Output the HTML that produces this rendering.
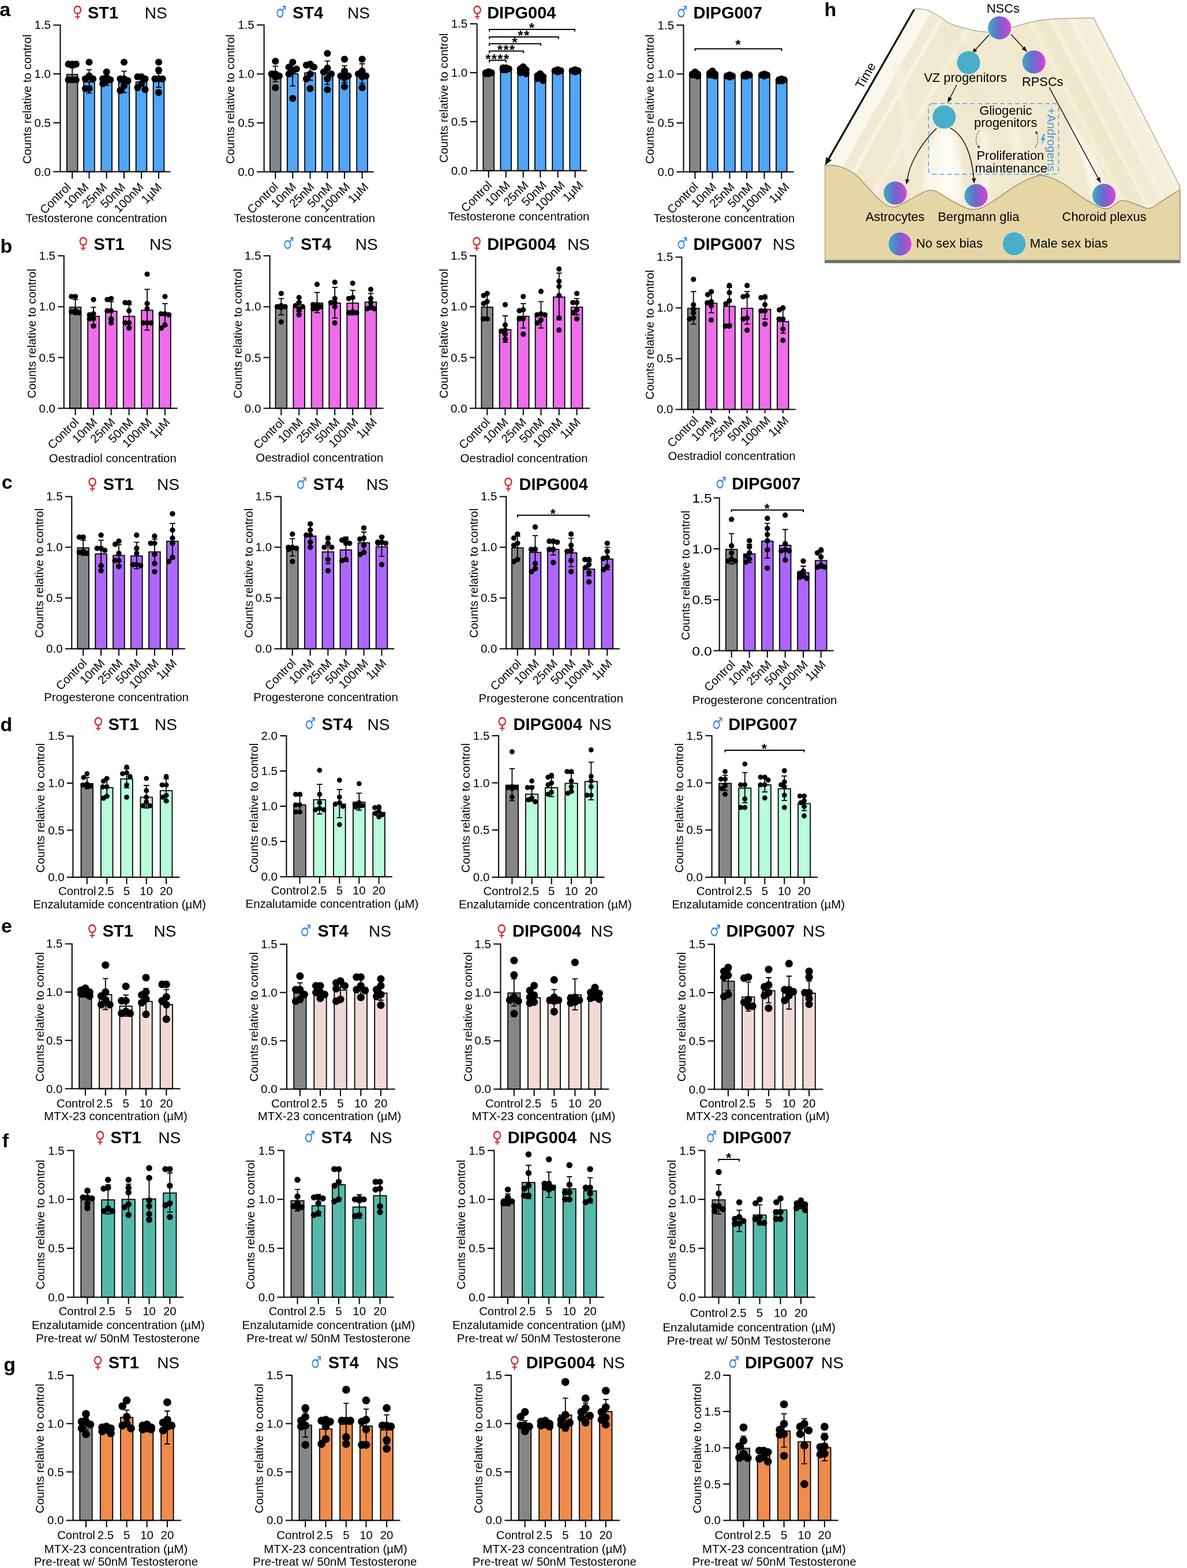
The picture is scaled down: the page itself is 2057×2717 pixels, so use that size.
<!DOCTYPE html><html><head><meta charset='utf-8'><title>Figure</title><style>html,body{margin:0;padding:0;background:#fff;}svg{display:block}</style></head><body>
<svg width='2057' height='2717' viewBox='0 0 2057 2717' font-family="'Liberation Sans', Arial, Helvetica, sans-serif">
<rect width='2057' height='2717' fill='#fff'/>
<defs>
<linearGradient id='gcell' x1='0' x2='1' y1='0' y2='0'>
<stop offset='0' stop-color='#3aaec8'/><stop offset='0.45' stop-color='#6a6cc8'/><stop offset='0.75' stop-color='#a253d2'/><stop offset='1' stop-color='#e83fd8'/>
</linearGradient>
<linearGradient id='surf' x1='0' x2='1' y1='0' y2='0'>
<stop offset='0' stop-color='#f6f1de'/><stop offset='0.25' stop-color='#f1e9cd'/><stop offset='0.5' stop-color='#f0e8cb'/>
<stop offset='0.75' stop-color='#f2ebd2'/><stop offset='1' stop-color='#f5f0df'/>
</linearGradient>
</defs>
<clipPath id='surfclip'><path d='M1584.3,16.2C1585.57,16 1587.45,14.52 1591.9,15C1596.35,15.48 1604.65,16.6 1611,19.1C1617.35,21.6 1623.63,26.18 1630,30C1636.37,33.82 1639.63,38.25 1649.2,42C1658.77,45.75 1676.9,50.27 1687.4,52.5C1697.9,54.73 1704.77,55.48 1712.2,55.4C1719.63,55.32 1725.23,53.23 1732,52C1738.77,50.77 1744.8,50 1752.8,48C1760.8,46 1770.33,42.32 1780,40C1789.67,37.68 1799.3,35.43 1810.8,34.1C1822.3,32.77 1835.5,32.48 1849,32C1862.5,31.52 1883.97,31.03 1891.8,31.2C1899.63,31.37 1895.3,32.7 1896,33L2044.8,323L2044.8,328.7C2039.75,331.87 2023.33,342.32 2014.5,347.7C2005.67,353.08 1999.68,360.07 1991.8,361C1983.92,361.93 1974.47,355.52 1967.2,353.3C1959.93,351.08 1952.93,348.33 1948.2,347.7C1943.47,347.07 1943.53,347.2 1938.8,349.5C1934.07,351.8 1926.12,360.23 1919.8,361.5C1913.48,362.77 1908.78,360.68 1900.9,357.1C1893.02,353.52 1881.98,346.3 1872.5,340C1863.02,333.7 1853.47,324.97 1844,319.3C1834.53,313.63 1823.57,308.38 1815.7,306C1807.83,303.62 1804.68,303.1 1796.8,305C1788.92,306.9 1777.03,312.9 1768.4,317.4C1759.77,321.9 1752.32,327.2 1745,332C1737.68,336.8 1732,341.47 1724.5,346.2C1717,350.93 1707.45,357.7 1700,360.4C1692.55,363.1 1687.57,364.1 1679.8,362.4C1672.03,360.7 1662.87,355.27 1653.4,350.2C1643.93,345.13 1629.75,335.37 1623,332C1616.25,328.63 1616.28,330 1612.9,330C1609.52,330 1609.47,328.97 1602.7,332C1595.93,335.03 1580.75,343.73 1572.3,348.2C1563.85,352.67 1557.77,357.45 1552,358.8C1546.23,360.15 1542.78,358.77 1537.7,356.3C1532.62,353.83 1527.58,349.75 1521.5,344C1515.42,338.25 1507.97,328.88 1501.2,321.8C1494.43,314.72 1488.1,306.88 1480.9,301.5C1473.7,296.12 1464.77,292.03 1458,289.5C1451.23,286.97 1445.12,286.67 1440.3,286.3C1435.48,285.93 1430.97,287.13 1429.1,287.3Z'/></clipPath>
<path d='M1584.3,16.2C1585.57,16 1587.45,14.52 1591.9,15C1596.35,15.48 1604.65,16.6 1611,19.1C1617.35,21.6 1623.63,26.18 1630,30C1636.37,33.82 1639.63,38.25 1649.2,42C1658.77,45.75 1676.9,50.27 1687.4,52.5C1697.9,54.73 1704.77,55.48 1712.2,55.4C1719.63,55.32 1725.23,53.23 1732,52C1738.77,50.77 1744.8,50 1752.8,48C1760.8,46 1770.33,42.32 1780,40C1789.67,37.68 1799.3,35.43 1810.8,34.1C1822.3,32.77 1835.5,32.48 1849,32C1862.5,31.52 1883.97,31.03 1891.8,31.2C1899.63,31.37 1895.3,32.7 1896,33L2044.8,323L2044.8,328.7C2039.75,331.87 2023.33,342.32 2014.5,347.7C2005.67,353.08 1999.68,360.07 1991.8,361C1983.92,361.93 1974.47,355.52 1967.2,353.3C1959.93,351.08 1952.93,348.33 1948.2,347.7C1943.47,347.07 1943.53,347.2 1938.8,349.5C1934.07,351.8 1926.12,360.23 1919.8,361.5C1913.48,362.77 1908.78,360.68 1900.9,357.1C1893.02,353.52 1881.98,346.3 1872.5,340C1863.02,333.7 1853.47,324.97 1844,319.3C1834.53,313.63 1823.57,308.38 1815.7,306C1807.83,303.62 1804.68,303.1 1796.8,305C1788.92,306.9 1777.03,312.9 1768.4,317.4C1759.77,321.9 1752.32,327.2 1745,332C1737.68,336.8 1732,341.47 1724.5,346.2C1717,350.93 1707.45,357.7 1700,360.4C1692.55,363.1 1687.57,364.1 1679.8,362.4C1672.03,360.7 1662.87,355.27 1653.4,350.2C1643.93,345.13 1629.75,335.37 1623,332C1616.25,328.63 1616.28,330 1612.9,330C1609.52,330 1609.47,328.97 1602.7,332C1595.93,335.03 1580.75,343.73 1572.3,348.2C1563.85,352.67 1557.77,357.45 1552,358.8C1546.23,360.15 1542.78,358.77 1537.7,356.3C1532.62,353.83 1527.58,349.75 1521.5,344C1515.42,338.25 1507.97,328.88 1501.2,321.8C1494.43,314.72 1488.1,306.88 1480.9,301.5C1473.7,296.12 1464.77,292.03 1458,289.5C1451.23,286.97 1445.12,286.67 1440.3,286.3C1435.48,285.93 1430.97,287.13 1429.1,287.3Z' fill='#f1e9cf'/>
<g clip-path='url(#surfclip)'>
<path d='M1614.12,-35.87L1400.38,337.37L1424.68,351.28L1638.41,-21.95Z' fill='#faf7ec' opacity='1.0'/>
<path d='M1638.41,-21.95L1424.68,351.28L1439.43,359.73L1653.17,-13.5Z' fill='#f1ead3' opacity='1.0'/>
<path d='M1653.17,-13.5L1439.43,359.73L1446.38,363.7L1660.11,-9.53Z' fill='#f6f1e2' opacity='1.0'/>
<path d='M1660.11,-9.53L1446.38,363.7L1480.22,383.09L1693.95,9.85Z' fill='#f0e8cf' opacity='1.0'/>
<path d='M1693.95,9.85L1480.22,383.09L1490.63,389.05L1704.37,15.81Z' fill='#f4eedb' opacity='1.0'/>
<path d='M1858.43,-39.65L2081.37,394.15L2072.47,398.73L1849.54,-35.08Z' fill='#f6f1e0' opacity='1.0'/>
<path d='M1849.54,-35.08L2072.47,398.73L2054.68,407.87L1831.75,-25.94Z' fill='#f4eed9' opacity='1.0'/>
<path d='M1831.75,-25.94L2054.68,407.87L2045.79,412.44L1822.86,-21.37Z' fill='#f6f1e1' opacity='1.0'/>
<path d='M1822.86,-21.37L2045.79,412.44L2026.22,422.49L1803.29,-11.32Z' fill='#f2ebd3' opacity='1.0'/>
<path d='M1803.29,-11.32L2026.22,422.49L2019.11,426.15L1796.17,-7.66Z' fill='#f5f0de' opacity='1.0'/>
<path d='M1796.17,-7.66L2019.11,426.15L1996.87,437.58L1773.94,3.77Z' fill='#f0e8cd' opacity='1.0'/>
<path d='M1773.94,3.77L1996.87,437.58L1988.87,441.69L1765.93,7.88Z' fill='#f4eed9' opacity='1.0'/>
<filter id='blur4' x='-50%' y='-50%' width='200%' height='200%'><feGaussianBlur stdDeviation='3.5'/></filter>
<path d='M1612,250 C1622,225 1640,215 1652,226 C1664,250 1668,300 1668,350 L1600,350 C1600,310 1604,275 1612,250 Z' fill='#fbf8ee' opacity='0.9' filter='url(#blur4)'/>
<path d='M1633,232 C1638,226 1645,228 1647,236 C1652,270 1655,310 1652,345 L1630,345 C1628,300 1628,260 1633,232 Z' fill='#fffdf6' opacity='0.9' filter='url(#blur4)'/>
<path d='M1700,230 C1706,226 1712,232 1714,245 C1716,280 1716,320 1714,350 L1700,350 C1698,310 1697,270 1700,230 Z' fill='#f9f5e7' opacity='0.8' filter='url(#blur4)'/>
<path d='M1740,180 C1760,200 1775,250 1778,300 L1760,305 C1757,255 1745,215 1735,190 Z' fill='#f8f3e2' opacity='0.8' filter='url(#blur4)'/>
<path d='M1860,215 C1880,240 1895,290 1905,340 L1893,344 C1883,295 1870,250 1852,222 Z' fill='#fcfaf1' opacity='0.9' filter='url(#blur4)'/>
<path d='M1885,245 C1900,270 1915,310 1925,350 L1915,352 C1905,315 1892,280 1878,252 Z' fill='#f9f5e6' opacity='0.8' filter='url(#blur4)'/>
<path d='M1655,60 C1680,90 1700,150 1705,200 L1690,205 C1684,150 1668,100 1645,68 Z' fill='#efe6ca' opacity='0.7' filter='url(#blur4)'/>
<path d='M1560,110 C1570,160 1580,230 1585,300 L1570,300 C1566,230 1556,160 1548,115 Z' fill='#f6f1df' opacity='0.8' filter='url(#blur4)'/>
</g>
<path d='M1584.3,16.2C1585.57,16 1587.45,14.52 1591.9,15C1596.35,15.48 1604.65,16.6 1611,19.1C1617.35,21.6 1623.63,26.18 1630,30C1636.37,33.82 1639.63,38.25 1649.2,42C1658.77,45.75 1676.9,50.27 1687.4,52.5C1697.9,54.73 1704.77,55.48 1712.2,55.4C1719.63,55.32 1725.23,53.23 1732,52C1738.77,50.77 1744.8,50 1752.8,48C1760.8,46 1770.33,42.32 1780,40C1789.67,37.68 1799.3,35.43 1810.8,34.1C1822.3,32.77 1835.5,32.48 1849,32C1862.5,31.52 1883.97,31.03 1891.8,31.2C1899.63,31.37 1895.3,32.7 1896,33L2044.8,323L2044.8,328.7C2039.75,331.87 2023.33,342.32 2014.5,347.7C2005.67,353.08 1999.68,360.07 1991.8,361C1983.92,361.93 1974.47,355.52 1967.2,353.3C1959.93,351.08 1952.93,348.33 1948.2,347.7C1943.47,347.07 1943.53,347.2 1938.8,349.5C1934.07,351.8 1926.12,360.23 1919.8,361.5C1913.48,362.77 1908.78,360.68 1900.9,357.1C1893.02,353.52 1881.98,346.3 1872.5,340C1863.02,333.7 1853.47,324.97 1844,319.3C1834.53,313.63 1823.57,308.38 1815.7,306C1807.83,303.62 1804.68,303.1 1796.8,305C1788.92,306.9 1777.03,312.9 1768.4,317.4C1759.77,321.9 1752.32,327.2 1745,332C1737.68,336.8 1732,341.47 1724.5,346.2C1717,350.93 1707.45,357.7 1700,360.4C1692.55,363.1 1687.57,364.1 1679.8,362.4C1672.03,360.7 1662.87,355.27 1653.4,350.2C1643.93,345.13 1629.75,335.37 1623,332C1616.25,328.63 1616.28,330 1612.9,330C1609.52,330 1609.47,328.97 1602.7,332C1595.93,335.03 1580.75,343.73 1572.3,348.2C1563.85,352.67 1557.77,357.45 1552,358.8C1546.23,360.15 1542.78,358.77 1537.7,356.3C1532.62,353.83 1527.58,349.75 1521.5,344C1515.42,338.25 1507.97,328.88 1501.2,321.8C1494.43,314.72 1488.1,306.88 1480.9,301.5C1473.7,296.12 1464.77,292.03 1458,289.5C1451.23,286.97 1445.12,286.67 1440.3,286.3C1435.48,285.93 1430.97,287.13 1429.1,287.3Z' fill='none' stroke='#8f8668' stroke-width='1'/>
<path d='M1429.1,287.3C1430.97,287.13 1435.48,285.93 1440.3,286.3C1445.12,286.67 1451.23,286.97 1458,289.5C1464.77,292.03 1473.7,296.12 1480.9,301.5C1488.1,306.88 1494.43,314.72 1501.2,321.8C1507.97,328.88 1515.42,338.25 1521.5,344C1527.58,349.75 1532.62,353.83 1537.7,356.3C1542.78,358.77 1546.23,360.15 1552,358.8C1557.77,357.45 1563.85,352.67 1572.3,348.2C1580.75,343.73 1595.93,335.03 1602.7,332C1609.47,328.97 1609.52,330 1612.9,330C1616.28,330 1616.25,328.63 1623,332C1629.75,335.37 1643.93,345.13 1653.4,350.2C1662.87,355.27 1672.03,360.7 1679.8,362.4C1687.57,364.1 1692.55,363.1 1700,360.4C1707.45,357.7 1717,350.93 1724.5,346.2C1732,341.47 1737.68,336.8 1745,332C1752.32,327.2 1759.77,321.9 1768.4,317.4C1777.03,312.9 1788.92,306.9 1796.8,305C1804.68,303.1 1807.83,303.62 1815.7,306C1823.57,308.38 1834.53,313.63 1844,319.3C1853.47,324.97 1863.02,333.7 1872.5,340C1881.98,346.3 1893.02,353.52 1900.9,357.1C1908.78,360.68 1913.48,362.77 1919.8,361.5C1926.12,360.23 1934.07,351.8 1938.8,349.5C1943.53,347.2 1943.47,347.07 1948.2,347.7C1952.93,348.33 1959.93,351.08 1967.2,353.3C1974.47,355.52 1983.92,361.93 1991.8,361C1999.68,360.07 2005.67,353.08 2014.5,347.7C2023.33,342.32 2039.75,331.87 2044.8,328.7L2044.8,452L1429.1,452Z' fill='#e6d6a6'/>
<path d='M1429.1,287.3C1430.97,287.13 1435.48,285.93 1440.3,286.3C1445.12,286.67 1451.23,286.97 1458,289.5C1464.77,292.03 1473.7,296.12 1480.9,301.5C1488.1,306.88 1494.43,314.72 1501.2,321.8C1507.97,328.88 1515.42,338.25 1521.5,344C1527.58,349.75 1532.62,353.83 1537.7,356.3C1542.78,358.77 1546.23,360.15 1552,358.8C1557.77,357.45 1563.85,352.67 1572.3,348.2C1580.75,343.73 1595.93,335.03 1602.7,332C1609.47,328.97 1609.52,330 1612.9,330C1616.28,330 1616.25,328.63 1623,332C1629.75,335.37 1643.93,345.13 1653.4,350.2C1662.87,355.27 1672.03,360.7 1679.8,362.4C1687.57,364.1 1692.55,363.1 1700,360.4C1707.45,357.7 1717,350.93 1724.5,346.2C1732,341.47 1737.68,336.8 1745,332C1752.32,327.2 1759.77,321.9 1768.4,317.4C1777.03,312.9 1788.92,306.9 1796.8,305C1804.68,303.1 1807.83,303.62 1815.7,306C1823.57,308.38 1834.53,313.63 1844,319.3C1853.47,324.97 1863.02,333.7 1872.5,340C1881.98,346.3 1893.02,353.52 1900.9,357.1C1908.78,360.68 1913.48,362.77 1919.8,361.5C1926.12,360.23 1934.07,351.8 1938.8,349.5C1943.53,347.2 1943.47,347.07 1948.2,347.7C1952.93,348.33 1959.93,351.08 1967.2,353.3C1974.47,355.52 1983.92,361.93 1991.8,361C1999.68,360.07 2005.67,353.08 2014.5,347.7C2023.33,342.32 2039.75,331.87 2044.8,328.7' fill='none' stroke='#8f8463' stroke-width='1.1'/>
<path d='M1429.6,287.5V452M2044.3,323V452' stroke='#a89a72' stroke-width='1'/>
<rect x='1429.1' y='450.5' width='616.5' height='5.5' fill='#6f6f70'/>
<rect x='2044.5' y='330' width='1.8' height='126' fill='#b5b0a5'/>
<line x1='1584.3' y1='16.2' x2='1432.5' y2='281.5' stroke='#111' stroke-width='3.3'/>
<path d='M1429.8,286.3L1431.48,272.29L1441.03,277.75Z' fill='#111'/>
<text transform='translate(1506.5,134.5) rotate(-60.2)' font-size='22' text-anchor='middle'>Time</text>
<rect x='1609' y='179.5' width='225.5' height='122.5' rx='7' ry='7' fill='none' stroke='#5aa2e3' stroke-width='1.6' stroke-dasharray='8,5'/>
<line x1='1714.2' y1='60.2' x2='1684.5' y2='92.5' stroke='#111' stroke-width='1.5'/>
<path d='M1684.5,92.5L1687.83,83.34L1693.35,88.41Z' fill='#111'/>
<line x1='1752.2' y1='59.7' x2='1779.5' y2='89.5' stroke='#111' stroke-width='1.5'/>
<path d='M1779.5,89.5L1770.66,85.4L1776.19,80.33Z' fill='#111'/>
<line x1='1657.8' y1='147' x2='1642.5' y2='177.5' stroke='#111' stroke-width='1.5'/>
<path d='M1642.5,177.5L1643.18,167.77L1649.89,171.14Z' fill='#111'/>
<line x1='1818.3' y1='151.7' x2='1907.2' y2='316.5' stroke='#111' stroke-width='1.5'/>
<path d='M1907.2,316.5L1899.63,310.36L1906.23,306.8Z' fill='#111'/>
<path d='M1623,222.3 C1600,245 1576,280 1572.5,311' stroke='#111' stroke-width='1.5' fill='none'/>
<path d='M1570.8,319.8L1568.73,310.27L1576.1,311.62Z' fill='#111'/>
<path d='M1646.3,221.3 C1672,235 1684,270 1687.6,309' stroke='#111' stroke-width='1.5' fill='none'/>
<path d='M1688,318L1683.91,309.15L1691.4,308.86Z' fill='#111'/>
<path d='M1696.5,227 C1690,236 1690,246 1695.5,254' stroke='#222' stroke-width='1.1' fill='none' stroke-dasharray='2.5,2'/>
<path d='M1697,257.5L1693.41,253.36L1697.72,252.06Z' fill='#222'/>
<path d='M1794,256 C1799,248 1800,238 1796,229' stroke='#222' stroke-width='1.1' fill='none' stroke-dasharray='2.5,2'/>
<path d='M1795,226.5L1798.59,230.64L1794.28,231.94Z' fill='#222'/>
<path d='M1808.5,232 L1803.5,243 L1807.2,243 L1804.3,252 L1811.8,239.5 L1808,239.5 L1811,232 Z' fill='#4a9be6'/>
<circle cx='1732.2' cy='48.3' r='20.5' fill='url(#gcell)' stroke='#fbf6ea' stroke-width='0.8'/>
<circle cx='1678.5' cy='108.6' r='20.5' fill='#49afc9' stroke='#fbf6ea' stroke-width='0.8'/>
<circle cx='1791.7' cy='107.4' r='20.5' fill='url(#gcell)' stroke='#fbf6ea' stroke-width='0.8'/>
<circle cx='1636.2' cy='202.7' r='20.5' fill='#49afc9' stroke='#fbf6ea' stroke-width='0.8'/>
<circle cx='1551.4' cy='334.5' r='20.5' fill='url(#gcell)' stroke='#fbf6ea' stroke-width='0.8'/>
<circle cx='1691.5' cy='338.9' r='20.5' fill='url(#gcell)' stroke='#fbf6ea' stroke-width='0.8'/>
<circle cx='1913.2' cy='338.5' r='20.5' fill='url(#gcell)' stroke='#fbf6ea' stroke-width='0.8'/>
<circle cx='1559.6' cy='422.8' r='20.5' fill='url(#gcell)' stroke='#fbf6ea' stroke-width='0.8'/>
<circle cx='1757.5' cy='422.4' r='20.5' fill='#49afc9' stroke='#fbf6ea' stroke-width='0.8'/>
<g font-size='21.9' text-anchor='middle' fill='#000'><text x='1738.4' y='22.4'>NSCs</text><text x='1673' y='142.3'>VZ progenitors</text><text x='1806.8' y='149.2'>RPSCs</text><text x='1742.8' y='199.2'>Gliogenic</text><text x='1742.8' y='219.6'>progenitors</text><text x='1750.9' y='277.1'>Proliferation</text><text x='1752.3' y='298.5'>maintenance</text><text x='1551' y='382.7'>Astrocytes</text><text x='1695.8' y='382.7'>Bergmann glia</text><text x='1913.6' y='382.7'>Choroid plexus</text></g>
<g font-size='22.1' fill='#000'><text x='1587.5' y='429.4'>No sex bias</text><text x='1784.8' y='429.2'>Male sex bias</text></g>
<text transform='translate(1815,241.8) rotate(90)' font-size='20.5' fill='#4a95e0' text-anchor='middle'>+Androgens</text>
<g id='a1'>
<rect x='115.85' y='129' width='18.7' height='168.5' fill='#85868a' stroke='#000' stroke-width='1.8'/>
<rect x='145.15' y='142.04' width='18.7' height='155.46' fill='#52a6f7' stroke='#000' stroke-width='1.8'/>
<rect x='175.35' y='140.18' width='18.7' height='157.32' fill='#52a6f7' stroke='#000' stroke-width='1.8'/>
<rect x='205.65' y='142.89' width='18.7' height='154.61' fill='#52a6f7' stroke='#000' stroke-width='1.8'/>
<rect x='235.65' y='142.04' width='18.7' height='155.46' fill='#52a6f7' stroke='#000' stroke-width='1.8'/>
<rect x='265.65' y='140.18' width='18.7' height='157.32' fill='#52a6f7' stroke='#000' stroke-width='1.8'/>
<path d='M125.2,138.6V117.6M120.45,117.6H129.95M120.45,138.6H129.95' stroke='#000' stroke-width='1.8' fill='none'/>
<path d='M154.5,161.47V120.82M149.75,120.82H159.25M149.75,161.47H159.25' stroke='#000' stroke-width='1.8' fill='none'/>
<path d='M184.7,147.75V130.81M179.95,130.81H189.45M179.95,147.75H189.45' stroke='#000' stroke-width='1.8' fill='none'/>
<path d='M215,160.62V123.36M210.25,123.36H219.75M210.25,160.62H219.75' stroke='#000' stroke-width='1.8' fill='none'/>
<path d='M245,149.61V132.67M240.25,132.67H249.75M240.25,149.61H249.75' stroke='#000' stroke-width='1.8' fill='none'/>
<path d='M275,151.14V127.42M270.25,127.42H279.75M270.25,151.14H279.75' stroke='#000' stroke-width='1.8' fill='none'/>
<g fill='#000'><circle cx='125.2' cy='111.16' r='6.1'/><circle cx='118.64' cy='111.16' r='6.1'/><circle cx='131.76' cy='111.16' r='6.1'/><circle cx='125.2' cy='138.26' r='6.1'/><circle cx='118.64' cy='138.26' r='6.1'/><circle cx='131.76' cy='138.26' r='6.1'/><circle cx='154.5' cy='107.77' r='6.1'/><circle cx='154.5' cy='131.49' r='6.1'/><circle cx='147.94' cy='136.57' r='6.1'/><circle cx='161.06' cy='136.57' r='6.1'/><circle cx='154.5' cy='153.51' r='6.1'/><circle cx='147.94' cy='153.51' r='6.1'/><circle cx='184.7' cy='124.71' r='6.1'/><circle cx='184.7' cy='134.88' r='6.1'/><circle cx='178.14' cy='136.57' r='6.1'/><circle cx='191.26' cy='138.26' r='6.1'/><circle cx='184.7' cy='139.96' r='6.1'/><circle cx='178.14' cy='145.04' r='6.1'/><circle cx='215' cy='107.77' r='6.1'/><circle cx='215' cy='136.57' r='6.1'/><circle cx='208.44' cy='136.57' r='6.1'/><circle cx='221.56' cy='139.96' r='6.1'/><circle cx='215' cy='148.43' r='6.1'/><circle cx='208.44' cy='156.9' r='6.1'/><circle cx='245' cy='133.18' r='6.1'/><circle cx='238.44' cy='133.18' r='6.1'/><circle cx='251.56' cy='136.57' r='6.1'/><circle cx='245' cy='145.04' r='6.1'/><circle cx='238.44' cy='151.82' r='6.1'/><circle cx='251.56' cy='155.2' r='6.1'/><circle cx='275' cy='107.77' r='6.1'/><circle cx='275' cy='121.32' r='6.1'/><circle cx='275' cy='136.57' r='6.1'/><circle cx='268.44' cy='136.57' r='6.1'/><circle cx='281.56' cy='136.57' r='6.1'/><circle cx='275' cy='160.29' r='6.1'/></g>
<path d='M92.3,43.4H104.5V297.5M92.3,128.1H104.5M92.3,212.8H104.5M92.3,297.5H295.6M125.2,297.5V309.5M154.5,297.5V309.5M184.7,297.5V309.5M215,297.5V309.5M245,297.5V309.5M275,297.5V309.5' stroke='#000' stroke-width='2.0' fill='none' stroke-linecap='butt'/>
<g font-size='20.5' text-anchor='end'><text x='88' y='50.47'>1.5</text><text x='88' y='135.17'>1.0</text><text x='88' y='219.87'>0.5</text><text x='88' y='304.57'>0.0</text></g>
<g font-size='20.4' text-anchor='end'><text transform='translate(124,325.6) rotate(-45)'>Control</text><text transform='translate(154.86,325.6) rotate(-45)'>10nM</text><text transform='translate(186.62,325.6) rotate(-45)'>25nM</text><text transform='translate(218.48,325.6) rotate(-45)'>50nM</text><text transform='translate(250.04,325.6) rotate(-45)'>100nM</text><text transform='translate(281.6,325.6) rotate(-45)'>1µM</text></g>
<text x='167' y='385.4' font-size='20.4' text-anchor='middle'>Testosterone concentration</text>
<text transform='translate(54,171.8) rotate(-90)' font-size='20.3' text-anchor='middle'>Counts relative to control</text>
<text transform='translate(134.3,30.2) scale(0.86,1)' x='-10.12' y='0' font-family="'DejaVu Sans', sans-serif" font-size='28.1' fill='#d4262c'>♀</text>
<text x='178.5' y='31.5' font-size='29' font-weight='bold' text-anchor='middle'>ST1</text>
<text x='270.2' y='31.5' font-size='28' text-anchor='middle'>NS</text>
</g>
<g id='a2'>
<rect x='467.95' y='129.03' width='18.7' height='168.77' fill='#85868a' stroke='#000' stroke-width='1.8'/>
<rect x='497.85' y='128.02' width='18.7' height='169.78' fill='#52a6f7' stroke='#000' stroke-width='1.8'/>
<rect x='528.15' y='126.32' width='18.7' height='171.48' fill='#52a6f7' stroke='#000' stroke-width='1.8'/>
<rect x='558.05' y='126.83' width='18.7' height='170.97' fill='#52a6f7' stroke='#000' stroke-width='1.8'/>
<rect x='587.65' y='129.37' width='18.7' height='168.43' fill='#52a6f7' stroke='#000' stroke-width='1.8'/>
<rect x='618.25' y='128.35' width='18.7' height='169.45' fill='#52a6f7' stroke='#000' stroke-width='1.8'/>
<path d='M477.3,141.71V114.56M472.55,114.56H482.05M472.55,141.71H482.05' stroke='#000' stroke-width='1.8' fill='none'/>
<path d='M507.2,149.17V105.06M502.45,105.06H511.95M502.45,149.17H511.95' stroke='#000' stroke-width='1.8' fill='none'/>
<path d='M537.5,138.99V111.85M532.75,111.85H542.25M532.75,138.99H542.25' stroke='#000' stroke-width='1.8' fill='none'/>
<path d='M567.4,146.29V105.57M562.65,105.57H572.15M562.65,146.29H572.15' stroke='#000' stroke-width='1.8' fill='none'/>
<path d='M597,142.89V114.05M592.25,114.05H601.75M592.25,142.89H601.75' stroke='#000' stroke-width='1.8' fill='none'/>
<path d='M627.6,144.42V110.49M622.85,110.49H632.35M622.85,144.42H632.35' stroke='#000' stroke-width='1.8' fill='none'/>
<g fill='#000'><circle cx='477.3' cy='106.08' r='6.1'/><circle cx='477.3' cy='128.13' r='6.1'/><circle cx='470.74' cy='128.13' r='6.1'/><circle cx='483.86' cy='131.53' r='6.1'/><circle cx='477.3' cy='133.22' r='6.1'/><circle cx='477.3' cy='151.89' r='6.1'/><circle cx='507.2' cy='107.77' r='6.1'/><circle cx='500.64' cy='116.26' r='6.1'/><circle cx='513.76' cy='119.65' r='6.1'/><circle cx='507.2' cy='123.04' r='6.1'/><circle cx='500.64' cy='128.13' r='6.1'/><circle cx='507.2' cy='170.55' r='6.1'/><circle cx='537.5' cy='111.17' r='6.1'/><circle cx='530.94' cy='112.86' r='6.1'/><circle cx='544.06' cy='116.26' r='6.1'/><circle cx='537.5' cy='128.13' r='6.1'/><circle cx='530.94' cy='136.62' r='6.1'/><circle cx='537.5' cy='153.58' r='6.1'/><circle cx='567.4' cy='92.5' r='6.1'/><circle cx='567.4' cy='117.95' r='6.1'/><circle cx='560.84' cy='124.74' r='6.1'/><circle cx='573.96' cy='128.13' r='6.1'/><circle cx='567.4' cy='136.62' r='6.1'/><circle cx='567.4' cy='155.28' r='6.1'/><circle cx='597' cy='102.68' r='6.1'/><circle cx='597' cy='123.04' r='6.1'/><circle cx='590.44' cy='131.53' r='6.1'/><circle cx='603.56' cy='131.53' r='6.1'/><circle cx='597' cy='134.92' r='6.1'/><circle cx='597' cy='150.19' r='6.1'/><circle cx='627.6' cy='102.68' r='6.1'/><circle cx='627.6' cy='123.04' r='6.1'/><circle cx='621.04' cy='128.13' r='6.1'/><circle cx='634.16' cy='131.53' r='6.1'/><circle cx='627.6' cy='133.22' r='6.1'/><circle cx='627.6' cy='151.89' r='6.1'/></g>
<path d='M445,43.3H457.6V297.8M445,128.13H457.6M445,212.97H457.6M445,297.8H647.8M477.3,297.8V309.8M507.2,297.8V309.8M537.5,297.8V309.8M567.4,297.8V309.8M597,297.8V309.8M627.6,297.8V309.8' stroke='#000' stroke-width='2.0' fill='none' stroke-linecap='butt'/>
<g font-size='20.5' text-anchor='end'><text x='440.7' y='50.37'>1.5</text><text x='440.7' y='135.21'>1.0</text><text x='440.7' y='220.04'>0.5</text><text x='440.7' y='304.87'>0.0</text></g>
<g font-size='20.4' text-anchor='end'><text transform='translate(483.3,324.9) rotate(-45)'>Control</text><text transform='translate(514.38,324.9) rotate(-45)'>10nM</text><text transform='translate(545.86,324.9) rotate(-45)'>25nM</text><text transform='translate(576.94,324.9) rotate(-45)'>50nM</text><text transform='translate(607.72,324.9) rotate(-45)'>100nM</text><text transform='translate(639.5,324.9) rotate(-45)'>1µM</text></g>
<text x='527.6' y='384.5' font-size='20.4' text-anchor='middle'>Testosterone concentration</text>
<text transform='translate(406.4,171.8) rotate(-90)' font-size='20.3' text-anchor='middle'>Counts relative to control</text>
<text transform='translate(487.3,29.9) scale(0.76,1)' x='-12.6' y='0' font-family="'DejaVu Sans', sans-serif" font-size='28' fill='#3d86e0'>♂</text>
<text x='533.6' y='31.5' font-size='29' font-weight='bold' text-anchor='middle'>ST4</text>
<text x='621.4' y='31.5' font-size='28' text-anchor='middle'>NS</text>
</g>
<g id='a3'>
<rect x='837.35' y='126.93' width='18.7' height='168.77' fill='#85868a' stroke='#000' stroke-width='1.8'/>
<rect x='867.35' y='120.15' width='18.7' height='175.55' fill='#52a6f7' stroke='#000' stroke-width='1.8'/>
<rect x='897.35' y='121.84' width='18.7' height='173.86' fill='#52a6f7' stroke='#000' stroke-width='1.8'/>
<rect x='926.95' y='133.72' width='18.7' height='161.98' fill='#52a6f7' stroke='#000' stroke-width='1.8'/>
<rect x='957.25' y='123.54' width='18.7' height='172.16' fill='#52a6f7' stroke='#000' stroke-width='1.8'/>
<rect x='987.35' y='123.54' width='18.7' height='172.16' fill='#52a6f7' stroke='#000' stroke-width='1.8'/>
<path d='M846.7,127.73V124.34M841.95,124.34H851.45M841.95,127.73H851.45' stroke='#000' stroke-width='1.8' fill='none'/>
<path d='M876.7,120.94V117.55M871.95,117.55H881.45M871.95,120.94H881.45' stroke='#000' stroke-width='1.8' fill='none'/>
<path d='M906.7,124.34V117.55M901.95,117.55H911.45M901.95,124.34H911.45' stroke='#000' stroke-width='1.8' fill='none'/>
<path d='M936.3,136.21V129.43M931.55,129.43H941.05M931.55,136.21H941.05' stroke='#000' stroke-width='1.8' fill='none'/>
<path d='M966.6,124.34V120.94M961.85,120.94H971.35M961.85,124.34H971.35' stroke='#000' stroke-width='1.8' fill='none'/>
<path d='M996.7,124.34V120.94M991.95,120.94H1001.45M991.95,124.34H1001.45' stroke='#000' stroke-width='1.8' fill='none'/>
<g fill='#000'><circle cx='846.7' cy='124.34' r='6.1'/><circle cx='841.78' cy='126.03' r='6.1'/><circle cx='851.62' cy='126.03' r='6.1'/><circle cx='846.7' cy='126.03' r='6.1'/><circle cx='846.7' cy='127.73' r='6.1'/><circle cx='841.78' cy='127.73' r='6.1'/><circle cx='876.7' cy='117.55' r='6.1'/><circle cx='871.78' cy='117.55' r='6.1'/><circle cx='881.62' cy='119.25' r='6.1'/><circle cx='876.7' cy='119.25' r='6.1'/><circle cx='871.78' cy='120.94' r='6.1'/><circle cx='876.7' cy='120.94' r='6.1'/><circle cx='906.7' cy='115.85' r='6.1'/><circle cx='901.78' cy='119.25' r='6.1'/><circle cx='911.62' cy='120.94' r='6.1'/><circle cx='906.7' cy='122.64' r='6.1'/><circle cx='901.78' cy='126.03' r='6.1'/><circle cx='911.62' cy='127.73' r='6.1'/><circle cx='936.3' cy='127.73' r='6.1'/><circle cx='931.38' cy='131.12' r='6.1'/><circle cx='941.22' cy='132.82' r='6.1'/><circle cx='936.3' cy='134.52' r='6.1'/><circle cx='931.38' cy='136.21' r='6.1'/><circle cx='941.22' cy='139.61' r='6.1'/><circle cx='966.6' cy='120.94' r='6.1'/><circle cx='961.68' cy='122.64' r='6.1'/><circle cx='971.52' cy='122.64' r='6.1'/><circle cx='966.6' cy='122.64' r='6.1'/><circle cx='966.6' cy='122.64' r='6.1'/><circle cx='966.6' cy='124.34' r='6.1'/><circle cx='996.7' cy='120.94' r='6.1'/><circle cx='991.78' cy='122.64' r='6.1'/><circle cx='1001.62' cy='122.64' r='6.1'/><circle cx='996.7' cy='122.64' r='6.1'/><circle cx='996.7' cy='122.64' r='6.1'/><circle cx='996.7' cy='124.34' r='6.1'/></g>
<path d='M814.5,41.2H826.6V295.7M814.5,126.03H826.6M814.5,210.87H826.6M814.5,295.7H1017.2M846.7,295.7V307.7M876.7,295.7V307.7M906.7,295.7V307.7M936.3,295.7V307.7M966.6,295.7V307.7M996.7,295.7V307.7' stroke='#000' stroke-width='2.0' fill='none' stroke-linecap='butt'/>
<g font-size='20.5' text-anchor='end'><text x='810.2' y='48.27'>1.5</text><text x='810.2' y='133.11'>1.0</text><text x='810.2' y='217.94'>0.5</text><text x='810.2' y='302.77'>0.0</text></g>
<g font-size='20.4' text-anchor='end'><text transform='translate(853.7,322.2) rotate(-45)'>Control</text><text transform='translate(885.34,322.2) rotate(-45)'>10nM</text><text transform='translate(916.98,322.2) rotate(-45)'>25nM</text><text transform='translate(948.22,322.2) rotate(-45)'>50nM</text><text transform='translate(980.16,322.2) rotate(-45)'>100nM</text><text transform='translate(1011.9,322.2) rotate(-45)'>1µM</text></g>
<text x='899' y='382' font-size='20.4' text-anchor='middle'>Testosterone concentration</text>
<text transform='translate(776,169.8) rotate(-90)' font-size='20.3' text-anchor='middle'>Counts relative to control</text>
<text transform='translate(827,30.2) scale(0.86,1)' x='-10.12' y='0' font-family="'DejaVu Sans', sans-serif" font-size='28.1' fill='#d4262c'>♀</text>
<text x='903.8' y='31.5' font-size='29' font-weight='bold' text-anchor='middle'>DIPG004</text>
<path d='M848,108.2V104.6H876.7V108.2' stroke='#000' stroke-width='2' fill='none'/>
<text x='862.35' y='110.6' font-size='24' font-weight='bold' text-anchor='middle' letter-spacing='1.2'>****</text>
<path d='M848,92.1V88.5H907.2V92.1' stroke='#000' stroke-width='2' fill='none'/>
<text x='877.6' y='94.5' font-size='24' font-weight='bold' text-anchor='middle' letter-spacing='1.2'>***</text>
<path d='M848,79.3V75.7H937V79.3' stroke='#000' stroke-width='2' fill='none'/>
<text x='892.5' y='81.7' font-size='24' font-weight='bold' text-anchor='middle' letter-spacing='1.2'>*</text>
<path d='M848,67.6V64H967.8V67.6' stroke='#000' stroke-width='2' fill='none'/>
<text x='907.9' y='70' font-size='24' font-weight='bold' text-anchor='middle' letter-spacing='1.2'>**</text>
<path d='M848,54.5V50.9H996.1V54.5' stroke='#000' stroke-width='2' fill='none'/>
<text x='922.05' y='56.9' font-size='24' font-weight='bold' text-anchor='middle' letter-spacing='1.2'>*</text>
</g>
<g id='a4'>
<rect x='1195.15' y='129.17' width='18.7' height='168.63' fill='#85868a' stroke='#000' stroke-width='1.8'/>
<rect x='1225.25' y='129.17' width='18.7' height='168.63' fill='#52a6f7' stroke='#000' stroke-width='1.8'/>
<rect x='1255.15' y='132.56' width='18.7' height='165.24' fill='#52a6f7' stroke='#000' stroke-width='1.8'/>
<rect x='1284.75' y='130.86' width='18.7' height='166.94' fill='#52a6f7' stroke='#000' stroke-width='1.8'/>
<rect x='1315.15' y='130.86' width='18.7' height='166.94' fill='#52a6f7' stroke='#000' stroke-width='1.8'/>
<rect x='1345.05' y='139.34' width='18.7' height='158.46' fill='#52a6f7' stroke='#000' stroke-width='1.8'/>
<path d='M1204.5,129.96V126.57M1199.75,126.57H1209.25M1199.75,129.96H1209.25' stroke='#000' stroke-width='1.8' fill='none'/>
<path d='M1234.6,129.96V126.57M1229.85,126.57H1239.35M1229.85,129.96H1239.35' stroke='#000' stroke-width='1.8' fill='none'/>
<path d='M1264.5,133.35V129.96M1259.75,129.96H1269.25M1259.75,133.35H1269.25' stroke='#000' stroke-width='1.8' fill='none'/>
<path d='M1294.1,131.66V128.27M1289.35,128.27H1298.85M1289.35,131.66H1298.85' stroke='#000' stroke-width='1.8' fill='none'/>
<path d='M1324.5,131.66V128.27M1319.75,128.27H1329.25M1319.75,131.66H1329.25' stroke='#000' stroke-width='1.8' fill='none'/>
<path d='M1354.4,140.13V136.74M1349.65,136.74H1359.15M1349.65,140.13H1359.15' stroke='#000' stroke-width='1.8' fill='none'/>
<g fill='#000'><circle cx='1204.5' cy='124.88' r='6.1'/><circle cx='1199.99' cy='128.27' r='6.1'/><circle cx='1209.01' cy='128.27' r='6.1'/><circle cx='1204.5' cy='129.96' r='6.1'/><circle cx='1199.99' cy='129.96' r='6.1'/><circle cx='1209.01' cy='131.66' r='6.1'/><circle cx='1234.6' cy='123.18' r='6.1'/><circle cx='1230.09' cy='126.57' r='6.1'/><circle cx='1239.11' cy='128.27' r='6.1'/><circle cx='1234.6' cy='129.96' r='6.1'/><circle cx='1230.09' cy='129.96' r='6.1'/><circle cx='1239.11' cy='131.66' r='6.1'/><circle cx='1264.5' cy='129.96' r='6.1'/><circle cx='1259.99' cy='131.66' r='6.1'/><circle cx='1269.01' cy='131.66' r='6.1'/><circle cx='1264.5' cy='131.66' r='6.1'/><circle cx='1264.5' cy='131.66' r='6.1'/><circle cx='1264.5' cy='133.35' r='6.1'/><circle cx='1294.1' cy='128.27' r='6.1'/><circle cx='1289.59' cy='129.96' r='6.1'/><circle cx='1298.61' cy='129.96' r='6.1'/><circle cx='1294.1' cy='129.96' r='6.1'/><circle cx='1294.1' cy='131.66' r='6.1'/><circle cx='1289.59' cy='131.66' r='6.1'/><circle cx='1324.5' cy='128.27' r='6.1'/><circle cx='1319.99' cy='129.96' r='6.1'/><circle cx='1329.01' cy='129.96' r='6.1'/><circle cx='1324.5' cy='129.96' r='6.1'/><circle cx='1324.5' cy='129.96' r='6.1'/><circle cx='1324.5' cy='131.66' r='6.1'/><circle cx='1354.4' cy='136.74' r='6.1'/><circle cx='1349.89' cy='138.44' r='6.1'/><circle cx='1358.91' cy='138.44' r='6.1'/><circle cx='1354.4' cy='138.44' r='6.1'/><circle cx='1354.4' cy='140.13' r='6.1'/><circle cx='1349.89' cy='140.13' r='6.1'/></g>
<path d='M1172.4,43.5H1184.5V297.8M1172.4,128.27H1184.5M1172.4,213.03H1184.5M1172.4,297.8H1375.5M1204.5,297.8V309.8M1234.6,297.8V309.8M1264.5,297.8V309.8M1294.1,297.8V309.8M1324.5,297.8V309.8M1354.4,297.8V309.8' stroke='#000' stroke-width='2.0' fill='none' stroke-linecap='butt'/>
<g font-size='20.5' text-anchor='end'><text x='1168.1' y='50.57'>1.5</text><text x='1168.1' y='135.34'>1.0</text><text x='1168.1' y='220.11'>0.5</text><text x='1168.1' y='304.87'>0.0</text></g>
<g font-size='20.4' text-anchor='end'><text transform='translate(1210.9,324.9) rotate(-45)'>Control</text><text transform='translate(1242.64,324.9) rotate(-45)'>10nM</text><text transform='translate(1274.18,324.9) rotate(-45)'>25nM</text><text transform='translate(1305.42,324.9) rotate(-45)'>50nM</text><text transform='translate(1337.46,324.9) rotate(-45)'>100nM</text><text transform='translate(1369,324.9) rotate(-45)'>1µM</text></g>
<text x='1254.9' y='384.5' font-size='20.4' text-anchor='middle'>Testosterone concentration</text>
<text transform='translate(1132.7,171.8) rotate(-90)' font-size='20.3' text-anchor='middle'>Counts relative to control</text>
<text transform='translate(1182.2,29.9) scale(0.76,1)' x='-12.6' y='0' font-family="'DejaVu Sans', sans-serif" font-size='28' fill='#3d86e0'>♂</text>
<text x='1261.2' y='31.5' font-size='29' font-weight='bold' text-anchor='middle'>DIPG007</text>
<path d='M1204.5,88.2V84.6H1354.4V88.2' stroke='#000' stroke-width='2' fill='none'/>
<text x='1279.45' y='85.6' font-size='24' font-weight='bold' text-anchor='middle' letter-spacing='1.2'>*</text>
</g>
<g id='b1'>
<rect x='120.75' y='532.3' width='19.7' height='175.3' fill='#85868a' stroke='#000' stroke-width='1.8'/>
<rect x='152.15' y='548.16' width='19.7' height='159.44' fill='#ee6deb' stroke='#000' stroke-width='1.8'/>
<rect x='182.85' y='539.35' width='19.7' height='168.25' fill='#ee6deb' stroke='#000' stroke-width='1.8'/>
<rect x='213.75' y='548.16' width='19.7' height='159.44' fill='#ee6deb' stroke='#000' stroke-width='1.8'/>
<rect x='245.15' y='537.59' width='19.7' height='170.01' fill='#ee6deb' stroke='#000' stroke-width='1.8'/>
<rect x='276.05' y='546.4' width='19.7' height='161.2' fill='#ee6deb' stroke='#000' stroke-width='1.8'/>
<path d='M130.6,543.73V519.07M125.85,519.07H135.35M125.85,543.73H135.35' stroke='#000' stroke-width='1.8' fill='none'/>
<path d='M162,562.24V532.28M157.25,532.28H166.75M157.25,562.24H166.75' stroke='#000' stroke-width='1.8' fill='none'/>
<path d='M192.7,554.31V522.59M187.95,522.59H197.45M187.95,554.31H197.45' stroke='#000' stroke-width='1.8' fill='none'/>
<path d='M223.6,566.64V527.88M218.85,527.88H228.35M218.85,566.64H228.35' stroke='#000' stroke-width='1.8' fill='none'/>
<path d='M255,571.93V501.45M250.25,501.45H259.75M250.25,571.93H259.75' stroke='#000' stroke-width='1.8' fill='none'/>
<path d='M285.9,564.88V526.11M281.15,526.11H290.65M281.15,564.88H290.65' stroke='#000' stroke-width='1.8' fill='none'/>
<g fill='#000'><circle cx='130.6' cy='513.78' r='4.6'/><circle cx='123.72' cy='513.78' r='4.6'/><circle cx='130.6' cy='538.45' r='4.6'/><circle cx='123.72' cy='540.21' r='4.6'/><circle cx='136.81' cy='541.97' r='4.6'/><circle cx='130.6' cy='541.97' r='4.6'/><circle cx='162' cy='519.07' r='4.6'/><circle cx='162' cy='543.73' r='4.6'/><circle cx='155.12' cy='545.5' r='4.6'/><circle cx='162' cy='552.54' r='4.6'/><circle cx='155.12' cy='552.54' r='4.6'/><circle cx='162' cy='564.88' r='4.6'/><circle cx='192.7' cy='517.3' r='4.6'/><circle cx='185.82' cy='519.07' r='4.6'/><circle cx='192.7' cy='538.45' r='4.6'/><circle cx='185.82' cy='538.45' r='4.6'/><circle cx='192.7' cy='552.54' r='4.6'/><circle cx='192.7' cy='559.59' r='4.6'/><circle cx='223.6' cy='524.35' r='4.6'/><circle cx='216.72' cy='524.35' r='4.6'/><circle cx='223.6' cy='538.45' r='4.6'/><circle cx='223.6' cy='559.59' r='4.6'/><circle cx='216.72' cy='559.59' r='4.6'/><circle cx='223.6' cy='568.4' r='4.6'/><circle cx='255' cy='475.02' r='4.6'/><circle cx='255' cy='526.11' r='4.6'/><circle cx='255' cy='534.92' r='4.6'/><circle cx='255' cy='559.59' r='4.6'/><circle cx='248.12' cy='559.59' r='4.6'/><circle cx='261.88' cy='559.59' r='4.6'/><circle cx='285.9' cy='513.78' r='4.6'/><circle cx='285.9' cy='543.73' r='4.6'/><circle cx='279.02' cy='543.73' r='4.6'/><circle cx='292.78' cy='545.5' r='4.6'/><circle cx='285.9' cy='563.12' r='4.6'/><circle cx='279.69' cy='568.4' r='4.6'/></g>
<path d='M100.3,443.3H110.8V707.6M100.3,531.4H110.8M100.3,619.5H110.8M100.3,707.6H307.6M130.6,707.6V719.6M162,707.6V719.6M192.7,707.6V719.6M223.6,707.6V719.6M255,707.6V719.6M285.9,707.6V719.6' stroke='#000' stroke-width='2.0' fill='none' stroke-linecap='butt'/>
<g font-size='20.5' text-anchor='end'><text x='96' y='450.37'>1.5</text><text x='96' y='538.47'>1.0</text><text x='96' y='626.57'>0.5</text><text x='96' y='714.67'>0.0</text></g>
<g font-size='20.4' text-anchor='end'><text transform='translate(137.6,732.7) rotate(-45)'>Control</text><text transform='translate(169.56,732.7) rotate(-45)'>10nM</text><text transform='translate(200.82,732.7) rotate(-45)'>25nM</text><text transform='translate(232.28,732.7) rotate(-45)'>50nM</text><text transform='translate(264.24,732.7) rotate(-45)'>100nM</text><text transform='translate(295.7,732.7) rotate(-45)'>1µM</text></g>
<text x='195.3' y='800.6' font-size='20.4' text-anchor='middle'>Oestradiol concentration</text>
<text transform='translate(62.3,578) rotate(-90)' font-size='20.3' text-anchor='middle'>Counts relative to control</text>
<text transform='translate(144.2,431.3) scale(0.86,1)' x='-10.12' y='0' font-family="'DejaVu Sans', sans-serif" font-size='28.1' fill='#d4262c'>♀</text>
<text x='189' y='432.6' font-size='29' font-weight='bold' text-anchor='middle'>ST1</text>
<text x='278.4' y='432.6' font-size='28' text-anchor='middle'>NS</text>
</g>
<g id='b2'>
<rect x='477.45' y='532.3' width='19.7' height='175.3' fill='#85868a' stroke='#000' stroke-width='1.8'/>
<rect x='508.35' y='532.3' width='19.7' height='175.3' fill='#ee6deb' stroke='#000' stroke-width='1.8'/>
<rect x='539.65' y='525.25' width='19.7' height='182.35' fill='#ee6deb' stroke='#000' stroke-width='1.8'/>
<rect x='570.35' y='525.25' width='19.7' height='182.35' fill='#ee6deb' stroke='#000' stroke-width='1.8'/>
<rect x='601.35' y='525.25' width='19.7' height='182.35' fill='#ee6deb' stroke='#000' stroke-width='1.8'/>
<rect x='632.65' y='523.49' width='19.7' height='184.11' fill='#ee6deb' stroke='#000' stroke-width='1.8'/>
<path d='M487.3,545.5V517.3M482.55,517.3H492.05M482.55,545.5H492.05' stroke='#000' stroke-width='1.8' fill='none'/>
<path d='M518.2,540.21V522.59M513.45,522.59H522.95M513.45,540.21H522.95' stroke='#000' stroke-width='1.8' fill='none'/>
<path d='M549.5,541.97V506.73M544.75,506.73H554.25M544.75,541.97H554.25' stroke='#000' stroke-width='1.8' fill='none'/>
<path d='M580.2,550.78V497.92M575.45,497.92H584.95M575.45,550.78H584.95' stroke='#000' stroke-width='1.8' fill='none'/>
<path d='M611.2,545.5V503.21M606.45,503.21H615.95M606.45,545.5H615.95' stroke='#000' stroke-width='1.8' fill='none'/>
<path d='M642.5,536.69V508.49M637.75,508.49H647.25M637.75,536.69H647.25' stroke='#000' stroke-width='1.8' fill='none'/>
<g fill='#000'><circle cx='487.3' cy='508.49' r='4.6'/><circle cx='487.3' cy='529.64' r='4.6'/><circle cx='480.42' cy='531.4' r='4.6'/><circle cx='494.18' cy='531.4' r='4.6'/><circle cx='487.3' cy='533.16' r='4.6'/><circle cx='487.3' cy='557.83' r='4.6'/><circle cx='518.2' cy='515.54' r='4.6'/><circle cx='518.2' cy='524.35' r='4.6'/><circle cx='511.99' cy='529.64' r='4.6'/><circle cx='524.41' cy='531.4' r='4.6'/><circle cx='518.2' cy='536.69' r='4.6'/><circle cx='518.2' cy='545.5' r='4.6'/><circle cx='549.5' cy='492.64' r='4.6'/><circle cx='549.5' cy='527.88' r='4.6'/><circle cx='542.62' cy='527.88' r='4.6'/><circle cx='555.71' cy='531.4' r='4.6'/><circle cx='549.5' cy='534.92' r='4.6'/><circle cx='542.62' cy='534.92' r='4.6'/><circle cx='580.2' cy='489.11' r='4.6'/><circle cx='580.2' cy='517.3' r='4.6'/><circle cx='580.2' cy='524.35' r='4.6'/><circle cx='573.32' cy='524.35' r='4.6'/><circle cx='580.2' cy='531.4' r='4.6'/><circle cx='580.2' cy='559.59' r='4.6'/><circle cx='611.2' cy='490.87' r='4.6'/><circle cx='611.2' cy='515.54' r='4.6'/><circle cx='604.32' cy='517.3' r='4.6'/><circle cx='611.2' cy='540.21' r='4.6'/><circle cx='604.32' cy='541.97' r='4.6'/><circle cx='618.08' cy='541.97' r='4.6'/><circle cx='642.5' cy='501.45' r='4.6'/><circle cx='642.5' cy='517.3' r='4.6'/><circle cx='642.5' cy='524.35' r='4.6'/><circle cx='642.5' cy='531.4' r='4.6'/><circle cx='636.29' cy='534.92' r='4.6'/><circle cx='648.71' cy='534.92' r='4.6'/></g>
<path d='M456.6,443.3H467.6V707.6M456.6,531.4H467.6M456.6,619.5H467.6M456.6,707.6H664.5M487.3,707.6V719.6M518.2,707.6V719.6M549.5,707.6V719.6M580.2,707.6V719.6M611.2,707.6V719.6M642.5,707.6V719.6' stroke='#000' stroke-width='2.0' fill='none' stroke-linecap='butt'/>
<g font-size='20.5' text-anchor='end'><text x='452.3' y='450.37'>1.5</text><text x='452.3' y='538.47'>1.0</text><text x='452.3' y='626.57'>0.5</text><text x='452.3' y='714.67'>0.0</text></g>
<g font-size='20.4' text-anchor='end'><text transform='translate(494.3,732.7) rotate(-45)'>Control</text><text transform='translate(526.14,732.7) rotate(-45)'>10nM</text><text transform='translate(558.38,732.7) rotate(-45)'>25nM</text><text transform='translate(590.02,732.7) rotate(-45)'>50nM</text><text transform='translate(621.96,732.7) rotate(-45)'>100nM</text><text transform='translate(654.2,732.7) rotate(-45)'>1µM</text></g>
<text x='553.8' y='799.6' font-size='20.4' text-anchor='middle'>Oestradiol concentration</text>
<text transform='translate(419,578) rotate(-90)' font-size='20.3' text-anchor='middle'>Counts relative to control</text>
<text transform='translate(500.4,431) scale(0.76,1)' x='-12.6' y='0' font-family="'DejaVu Sans', sans-serif" font-size='28' fill='#3d86e0'>♂</text>
<text x='547.5' y='432.6' font-size='29' font-weight='bold' text-anchor='middle'>ST4</text>
<text x='635.3' y='432.6' font-size='28' text-anchor='middle'>NS</text>
</g>
<g id='b3'>
<rect x='834.35' y='532.3' width='19.7' height='175.3' fill='#85868a' stroke='#000' stroke-width='1.8'/>
<rect x='865.65' y='571.06' width='19.7' height='136.54' fill='#ee6deb' stroke='#000' stroke-width='1.8'/>
<rect x='896.95' y='548.16' width='19.7' height='159.44' fill='#ee6deb' stroke='#000' stroke-width='1.8'/>
<rect x='927.65' y='546.4' width='19.7' height='161.2' fill='#ee6deb' stroke='#000' stroke-width='1.8'/>
<rect x='958.95' y='514.68' width='19.7' height='192.92' fill='#ee6deb' stroke='#000' stroke-width='1.8'/>
<rect x='989.75' y='532.3' width='19.7' height='175.3' fill='#ee6deb' stroke='#000' stroke-width='1.8'/>
<path d='M844.2,554.31V508.49M839.45,508.49H848.95M839.45,554.31H848.95' stroke='#000' stroke-width='1.8' fill='none'/>
<path d='M875.5,593.07V547.26M870.75,547.26H880.25M870.75,593.07H880.25' stroke='#000' stroke-width='1.8' fill='none'/>
<path d='M906.8,568.4V526.11M902.05,526.11H911.55M902.05,568.4H911.55' stroke='#000' stroke-width='1.8' fill='none'/>
<path d='M937.5,568.4V522.59M932.75,522.59H942.25M932.75,568.4H942.25' stroke='#000' stroke-width='1.8' fill='none'/>
<path d='M968.8,554.31V473.25M964.05,473.25H973.55M964.05,554.31H973.55' stroke='#000' stroke-width='1.8' fill='none'/>
<path d='M999.6,545.5V517.3M994.85,517.3H1004.35M994.85,545.5H1004.35' stroke='#000' stroke-width='1.8' fill='none'/>
<g fill='#000'><circle cx='844.2' cy='508.49' r='4.6'/><circle cx='837.99' cy='512.02' r='4.6'/><circle cx='844.2' cy='522.59' r='4.6'/><circle cx='837.99' cy='526.11' r='4.6'/><circle cx='844.2' cy='552.54' r='4.6'/><circle cx='837.32' cy='552.54' r='4.6'/><circle cx='875.5' cy='527.88' r='4.6'/><circle cx='875.5' cy='563.12' r='4.6'/><circle cx='875.5' cy='571.93' r='4.6'/><circle cx='868.62' cy='573.69' r='4.6'/><circle cx='875.5' cy='578.97' r='4.6'/><circle cx='875.5' cy='587.78' r='4.6'/><circle cx='906.8' cy='513.78' r='4.6'/><circle cx='906.8' cy='536.69' r='4.6'/><circle cx='899.92' cy='538.45' r='4.6'/><circle cx='906.8' cy='552.54' r='4.6'/><circle cx='899.92' cy='552.54' r='4.6'/><circle cx='906.8' cy='578.97' r='4.6'/><circle cx='937.5' cy='504.97' r='4.6'/><circle cx='937.5' cy='543.73' r='4.6'/><circle cx='930.62' cy='545.5' r='4.6'/><circle cx='944.38' cy='545.5' r='4.6'/><circle cx='937.5' cy='554.31' r='4.6'/><circle cx='931.29' cy='559.59' r='4.6'/><circle cx='968.8' cy='466.21' r='4.6'/><circle cx='968.8' cy='487.35' r='4.6'/><circle cx='968.8' cy='496.16' r='4.6'/><circle cx='968.8' cy='512.02' r='4.6'/><circle cx='968.8' cy='550.78' r='4.6'/><circle cx='968.8' cy='571.93' r='4.6'/><circle cx='999.6' cy='508.49' r='4.6'/><circle cx='999.6' cy='524.35' r='4.6'/><circle cx='992.72' cy='524.35' r='4.6'/><circle cx='999.6' cy='536.69' r='4.6'/><circle cx='993.39' cy='541.97' r='4.6'/><circle cx='999.6' cy='552.54' r='4.6'/></g>
<path d='M813.9,443.3H824.3V707.6M813.9,531.4H824.3M813.9,619.5H824.3M813.9,707.6H1022.4M844.2,707.6V719.6M875.5,707.6V719.6M906.8,707.6V719.6M937.5,707.6V719.6M968.8,707.6V719.6M999.6,707.6V719.6' stroke='#000' stroke-width='2.0' fill='none' stroke-linecap='butt'/>
<g font-size='20.5' text-anchor='end'><text x='809.6' y='450.37'>1.5</text><text x='809.6' y='538.47'>1.0</text><text x='809.6' y='626.57'>0.5</text><text x='809.6' y='714.67'>0.0</text></g>
<g font-size='20.4' text-anchor='end'><text transform='translate(850.1,732.7) rotate(-45)'>Control</text><text transform='translate(881.72,732.7) rotate(-45)'>10nM</text><text transform='translate(913.34,732.7) rotate(-45)'>25nM</text><text transform='translate(944.36,732.7) rotate(-45)'>50nM</text><text transform='translate(975.98,732.7) rotate(-45)'>100nM</text><text transform='translate(1007.1,732.7) rotate(-45)'>1µM</text></g>
<text x='908' y='800.6' font-size='20.4' text-anchor='middle'>Oestradiol concentration</text>
<text transform='translate(776,578) rotate(-90)' font-size='20.3' text-anchor='middle'>Counts relative to control</text>
<text transform='translate(826,431.3) scale(0.86,1)' x='-10.12' y='0' font-family="'DejaVu Sans', sans-serif" font-size='28.1' fill='#d4262c'>♀</text>
<text x='903.8' y='432.6' font-size='29' font-weight='bold' text-anchor='middle'>DIPG004</text>
<text x='1002.6' y='432.6' font-size='28' text-anchor='middle'>NS</text>
</g>
<g id='b4'>
<rect x='1191.85' y='534.3' width='19.7' height='175.1' fill='#85868a' stroke='#000' stroke-width='1.8'/>
<rect x='1222.75' y='525.5' width='19.7' height='183.9' fill='#ee6deb' stroke='#000' stroke-width='1.8'/>
<rect x='1254.15' y='530.78' width='19.7' height='178.62' fill='#ee6deb' stroke='#000' stroke-width='1.8'/>
<rect x='1284.85' y='534.3' width='19.7' height='175.1' fill='#ee6deb' stroke='#000' stroke-width='1.8'/>
<rect x='1315.75' y='536.06' width='19.7' height='173.34' fill='#ee6deb' stroke='#000' stroke-width='1.8'/>
<rect x='1346.95' y='557.18' width='19.7' height='152.22' fill='#ee6deb' stroke='#000' stroke-width='1.8'/>
<path d='M1201.7,561.56V505.24M1196.95,505.24H1206.45M1196.95,561.56H1206.45' stroke='#000' stroke-width='1.8' fill='none'/>
<path d='M1232.6,542.2V507M1227.85,507H1237.35M1227.85,542.2H1237.35' stroke='#000' stroke-width='1.8' fill='none'/>
<path d='M1264,561.56V498.2M1259.25,498.2H1268.75M1259.25,561.56H1268.75' stroke='#000' stroke-width='1.8' fill='none'/>
<path d='M1294.7,561.56V505.24M1289.95,505.24H1299.45M1289.95,561.56H1299.45' stroke='#000' stroke-width='1.8' fill='none'/>
<path d='M1325.6,552.76V517.56M1320.85,517.56H1330.35M1320.85,552.76H1330.35' stroke='#000' stroke-width='1.8' fill='none'/>
<path d='M1356.8,577.4V535.16M1352.05,535.16H1361.55M1352.05,577.4H1361.55' stroke='#000' stroke-width='1.8' fill='none'/>
<g fill='#000'><circle cx='1201.7' cy='484.12' r='4.6'/><circle cx='1201.7' cy='528.12' r='4.6'/><circle cx='1201.7' cy='535.16' r='4.6'/><circle cx='1201.7' cy='542.2' r='4.6'/><circle cx='1201.7' cy='551' r='4.6'/><circle cx='1194.82' cy='552.76' r='4.6'/><circle cx='1232.6' cy='505.24' r='4.6'/><circle cx='1226.39' cy='510.52' r='4.6'/><circle cx='1232.6' cy='522.84' r='4.6'/><circle cx='1225.72' cy='524.6' r='4.6'/><circle cx='1232.6' cy='529.88' r='4.6'/><circle cx='1232.6' cy='554.52' r='4.6'/><circle cx='1264' cy='494.68' r='4.6'/><circle cx='1264' cy='507' r='4.6'/><circle cx='1264' cy='521.08' r='4.6'/><circle cx='1257.79' cy='526.36' r='4.6'/><circle cx='1264' cy='565.08' r='4.6'/><circle cx='1257.12' cy='565.08' r='4.6'/><circle cx='1294.7' cy='494.68' r='4.6'/><circle cx='1294.7' cy='512.28' r='4.6'/><circle cx='1287.82' cy='514.04' r='4.6'/><circle cx='1294.7' cy='551' r='4.6'/><circle cx='1287.82' cy='552.76' r='4.6'/><circle cx='1294.7' cy='572.12' r='4.6'/><circle cx='1325.6' cy='514.04' r='4.6'/><circle cx='1318.72' cy='515.8' r='4.6'/><circle cx='1325.6' cy='528.12' r='4.6'/><circle cx='1325.6' cy='538.68' r='4.6'/><circle cx='1318.72' cy='538.68' r='4.6'/><circle cx='1325.6' cy='561.56' r='4.6'/><circle cx='1356.8' cy='533.4' r='4.6'/><circle cx='1350.59' cy='536.92' r='4.6'/><circle cx='1356.8' cy='552.76' r='4.6'/><circle cx='1349.92' cy='552.76' r='4.6'/><circle cx='1356.8' cy='570.36' r='4.6'/><circle cx='1356.8' cy='589.72' r='4.6'/></g>
<path d='M1170.7,445.4H1181.4V709.4M1170.7,533.4H1181.4M1170.7,621.4H1181.4M1170.7,709.4H1378.9M1201.7,709.4V715.9M1232.6,709.4V715.9M1264,709.4V715.9M1294.7,709.4V715.9M1325.6,709.4V715.9M1356.8,709.4V715.9' stroke='#000' stroke-width='2.0' fill='none' stroke-linecap='butt'/>
<g font-size='20.5' text-anchor='end'><text x='1166.4' y='452.47'>1.5</text><text x='1166.4' y='540.47'>1.0</text><text x='1166.4' y='628.47'>0.5</text><text x='1166.4' y='716.47'>0.0</text></g>
<g font-size='20.4' text-anchor='end'><text transform='translate(1211.2,729.7) rotate(-45)'>Control</text><text transform='translate(1242.4,729.7) rotate(-45)'>10nM</text><text transform='translate(1274.1,729.7) rotate(-45)'>25nM</text><text transform='translate(1305.1,729.7) rotate(-45)'>50nM</text><text transform='translate(1336.3,729.7) rotate(-45)'>100nM</text><text transform='translate(1367.8,729.7) rotate(-45)'>1µM</text></g>
<text x='1268' y='796.5' font-size='20.4' text-anchor='middle'>Oestradiol concentration</text>
<text transform='translate(1132.7,580) rotate(-90)' font-size='20.3' text-anchor='middle'>Counts relative to control</text>
<text transform='translate(1182.6,431) scale(0.76,1)' x='-12.6' y='0' font-family="'DejaVu Sans', sans-serif" font-size='28' fill='#3d86e0'>♂</text>
<text x='1261.2' y='432.6' font-size='29' font-weight='bold' text-anchor='middle'>DIPG007</text>
<text x='1358.4' y='432.6' font-size='28' text-anchor='middle'>NS</text>
</g>
<g id='c1'>
<rect x='134.35' y='949.27' width='19.7' height='175.03' fill='#85868a' stroke='#000' stroke-width='1.8'/>
<rect x='165.25' y='959.82' width='19.7' height='164.48' fill='#ad66fe' stroke='#000' stroke-width='1.8'/>
<rect x='196.05' y='962.46' width='19.7' height='161.84' fill='#ad66fe' stroke='#000' stroke-width='1.8'/>
<rect x='226.95' y='963.34' width='19.7' height='160.96' fill='#ad66fe' stroke='#000' stroke-width='1.8'/>
<rect x='258.05' y='956.3' width='19.7' height='168' fill='#ad66fe' stroke='#000' stroke-width='1.8'/>
<rect x='289.05' y='937.83' width='19.7' height='186.47' fill='#ad66fe' stroke='#000' stroke-width='1.8'/>
<path d='M144.2,960.68V936.05M139.45,936.05H148.95M139.45,960.68H148.95' stroke='#000' stroke-width='1.8' fill='none'/>
<path d='M175.1,981.79V936.05M170.35,936.05H179.85M170.35,981.79H179.85' stroke='#000' stroke-width='1.8' fill='none'/>
<path d='M205.9,979.15V943.97M201.15,943.97H210.65M201.15,979.15H210.65' stroke='#000' stroke-width='1.8' fill='none'/>
<path d='M236.8,985.31V939.57M232.05,939.57H241.55M232.05,985.31H241.55' stroke='#000' stroke-width='1.8' fill='none'/>
<path d='M267.9,976.52V934.29M263.15,934.29H272.65M263.15,976.52H272.65' stroke='#000' stroke-width='1.8' fill='none'/>
<path d='M298.9,966.84V907.02M294.15,907.02H303.65M294.15,966.84H303.65' stroke='#000' stroke-width='1.8' fill='none'/>
<g fill='#000'><circle cx='144.2' cy='930.77' r='4.7'/><circle cx='137.32' cy='930.77' r='4.7'/><circle cx='144.2' cy='955.4' r='4.7'/><circle cx='137.32' cy='957.16' r='4.7'/><circle cx='150.54' cy='958.92' r='4.7'/><circle cx='144.2' cy='958.92' r='4.7'/><circle cx='175.1' cy='927.25' r='4.7'/><circle cx='175.1' cy='950.13' r='4.7'/><circle cx='168.22' cy='950.13' r='4.7'/><circle cx='181.44' cy='953.64' r='4.7'/><circle cx='175.1' cy='980.03' r='4.7'/><circle cx='175.1' cy='988.83' r='4.7'/><circle cx='205.9' cy='937.81' r='4.7'/><circle cx='199.56' cy='943.09' r='4.7'/><circle cx='205.9' cy='958.92' r='4.7'/><circle cx='205.9' cy='971.24' r='4.7'/><circle cx='199.02' cy='971.24' r='4.7'/><circle cx='205.9' cy='981.79' r='4.7'/><circle cx='236.8' cy='927.25' r='4.7'/><circle cx='236.8' cy='950.13' r='4.7'/><circle cx='236.8' cy='958.92' r='4.7'/><circle cx='236.8' cy='978.28' r='4.7'/><circle cx='229.92' cy='978.28' r='4.7'/><circle cx='243.68' cy='980.03' r='4.7'/><circle cx='267.9' cy='929.01' r='4.7'/><circle cx='267.9' cy='941.33' r='4.7'/><circle cx='261.02' cy='941.33' r='4.7'/><circle cx='267.9' cy='960.68' r='4.7'/><circle cx='267.9' cy='976.52' r='4.7'/><circle cx='267.9' cy='990.59' r='4.7'/><circle cx='298.9' cy='890.31' r='4.7'/><circle cx='298.9' cy='918.46' r='4.7'/><circle cx='298.9' cy='932.53' r='4.7'/><circle cx='298.9' cy='941.33' r='4.7'/><circle cx='298.9' cy='965.96' r='4.7'/><circle cx='292.55' cy='973' r='4.7'/></g>
<path d='M112.9,860.4H124.3V1124.3M112.9,948.37H124.3M112.9,1036.33H124.3M112.9,1124.3H320.8M144.2,1124.3V1136.3M175.1,1124.3V1136.3M205.9,1124.3V1136.3M236.8,1124.3V1136.3M267.9,1124.3V1136.3M298.9,1124.3V1136.3' stroke='#000' stroke-width='2.0' fill='none' stroke-linecap='butt'/>
<g font-size='20.5' text-anchor='end'><text x='108.6' y='867.47'>1.5</text><text x='108.6' y='955.44'>1.0</text><text x='108.6' y='1043.41'>0.5</text><text x='108.6' y='1131.37'>0.0</text></g>
<g font-size='20.4' text-anchor='end'><text transform='translate(151.7,1150.4) rotate(-45)'>Control</text><text transform='translate(182.82,1150.4) rotate(-45)'>10nM</text><text transform='translate(213.84,1150.4) rotate(-45)'>25nM</text><text transform='translate(244.96,1150.4) rotate(-45)'>50nM</text><text transform='translate(276.28,1150.4) rotate(-45)'>100nM</text><text transform='translate(307.5,1150.4) rotate(-45)'>1µM</text></g>
<text x='201.6' y='1214.7' font-size='20.4' text-anchor='middle'>Progesterone concentration</text>
<text transform='translate(75.2,993) rotate(-90)' font-size='20.3' text-anchor='middle'>Counts relative to control</text>
<text transform='translate(159.9,847.7) scale(0.86,1)' x='-10.12' y='0' font-family="'DejaVu Sans', sans-serif" font-size='28.1' fill='#d4262c'>♀</text>
<text x='205.4' y='849' font-size='29' font-weight='bold' text-anchor='middle'>ST1</text>
<text x='291.5' y='849' font-size='28' text-anchor='middle'>NS</text>
</g>
<g id='c2'>
<rect x='496.85' y='949.27' width='19.7' height='175.03' fill='#85868a' stroke='#000' stroke-width='1.8'/>
<rect x='527.85' y='928.86' width='19.7' height='195.44' fill='#ad66fe' stroke='#000' stroke-width='1.8'/>
<rect x='558.55' y='956.3' width='19.7' height='168' fill='#ad66fe' stroke='#000' stroke-width='1.8'/>
<rect x='589.55' y='952.79' width='19.7' height='171.51' fill='#ad66fe' stroke='#000' stroke-width='1.8'/>
<rect x='620.65' y='940.47' width='19.7' height='183.83' fill='#ad66fe' stroke='#000' stroke-width='1.8'/>
<rect x='651.65' y='947.51' width='19.7' height='176.79' fill='#ad66fe' stroke='#000' stroke-width='1.8'/>
<path d='M506.7,963.32V933.41M501.95,933.41H511.45M501.95,963.32H511.45' stroke='#000' stroke-width='1.8' fill='none'/>
<path d='M537.7,947.31V908.61M532.95,908.61H542.45M532.95,947.31H542.45' stroke='#000' stroke-width='1.8' fill='none'/>
<path d='M568.4,976.52V934.29M563.65,934.29H573.15M563.65,976.52H573.15' stroke='#000' stroke-width='1.8' fill='none'/>
<path d='M599.4,973V930.77M594.65,930.77H604.15M594.65,973H604.15' stroke='#000' stroke-width='1.8' fill='none'/>
<path d='M630.5,957.16V921.98M625.75,921.98H635.25M625.75,957.16H635.25' stroke='#000' stroke-width='1.8' fill='none'/>
<path d='M661.5,964.2V929.01M656.75,929.01H666.25M656.75,964.2H666.25' stroke='#000' stroke-width='1.8' fill='none'/>
<g fill='#000'><circle cx='506.7' cy='925.5' r='4.7'/><circle cx='506.7' cy='948.37' r='4.7'/><circle cx='499.82' cy='948.37' r='4.7'/><circle cx='513.58' cy='950.13' r='4.7'/><circle cx='500.35' cy='951.89' r='4.7'/><circle cx='506.7' cy='973' r='4.7'/><circle cx='537.7' cy='907.9' r='4.7'/><circle cx='537.7' cy='918.46' r='4.7'/><circle cx='537.7' cy='927.25' r='4.7'/><circle cx='530.82' cy='927.25' r='4.7'/><circle cx='537.7' cy='939.57' r='4.7'/><circle cx='537.7' cy='948.37' r='4.7'/><circle cx='568.4' cy='932.53' r='4.7'/><circle cx='568.4' cy='941.33' r='4.7'/><circle cx='562.05' cy='948.37' r='4.7'/><circle cx='574.75' cy='948.37' r='4.7'/><circle cx='568.4' cy='969.48' r='4.7'/><circle cx='568.4' cy='988.83' r='4.7'/><circle cx='599.4' cy='934.29' r='4.7'/><circle cx='592.52' cy='936.05' r='4.7'/><circle cx='605.75' cy='941.33' r='4.7'/><circle cx='599.4' cy='941.33' r='4.7'/><circle cx='599.4' cy='969.48' r='4.7'/><circle cx='592.52' cy='971.24' r='4.7'/><circle cx='630.5' cy='914.94' r='4.7'/><circle cx='630.5' cy='932.53' r='4.7'/><circle cx='623.62' cy='934.29' r='4.7'/><circle cx='630.5' cy='944.85' r='4.7'/><circle cx='630.5' cy='957.16' r='4.7'/><circle cx='624.15' cy='960.68' r='4.7'/><circle cx='661.5' cy='930.77' r='4.7'/><circle cx='661.5' cy='939.57' r='4.7'/><circle cx='654.62' cy='939.57' r='4.7'/><circle cx='668.38' cy='941.33' r='4.7'/><circle cx='655.15' cy='941.33' r='4.7'/><circle cx='661.5' cy='978.28' r='4.7'/></g>
<path d='M475.4,860.4H486.9V1124.3M475.4,948.37H486.9M475.4,1036.33H486.9M475.4,1124.3H683.3M506.7,1124.3V1136.3M537.7,1124.3V1136.3M568.4,1124.3V1136.3M599.4,1124.3V1136.3M630.5,1124.3V1136.3M661.5,1124.3V1136.3' stroke='#000' stroke-width='2.0' fill='none' stroke-linecap='butt'/>
<g font-size='20.5' text-anchor='end'><text x='471.1' y='867.47'>1.5</text><text x='471.1' y='955.44'>1.0</text><text x='471.1' y='1043.41'>0.5</text><text x='471.1' y='1131.37'>0.0</text></g>
<g font-size='20.4' text-anchor='end'><text transform='translate(513.7,1150.4) rotate(-45)'>Control</text><text transform='translate(545.16,1150.4) rotate(-45)'>10nM</text><text transform='translate(576.32,1150.4) rotate(-45)'>25nM</text><text transform='translate(607.78,1150.4) rotate(-45)'>50nM</text><text transform='translate(639.34,1150.4) rotate(-45)'>100nM</text><text transform='translate(670.8,1150.4) rotate(-45)'>1µM</text></g>
<text x='564.5' y='1214.7' font-size='20.4' text-anchor='middle'>Progesterone concentration</text>
<text transform='translate(437.8,993) rotate(-90)' font-size='20.3' text-anchor='middle'>Counts relative to control</text>
<text transform='translate(522.8,847.4) scale(0.76,1)' x='-12.6' y='0' font-family="'DejaVu Sans', sans-serif" font-size='28' fill='#3d86e0'>♂</text>
<text x='569.2' y='849' font-size='29' font-weight='bold' text-anchor='middle'>ST4</text>
<text x='654.1' y='849' font-size='28' text-anchor='middle'>NS</text>
</g>
<g id='c3'>
<rect x='886.95' y='949.27' width='19.7' height='175.03' fill='#85868a' stroke='#000' stroke-width='1.8'/>
<rect x='917.65' y='957.18' width='19.7' height='167.12' fill='#ad66fe' stroke='#000' stroke-width='1.8'/>
<rect x='948.95' y='951.91' width='19.7' height='172.39' fill='#ad66fe' stroke='#000' stroke-width='1.8'/>
<rect x='979.85' y='958.06' width='19.7' height='166.24' fill='#ad66fe' stroke='#000' stroke-width='1.8'/>
<rect x='1010.75' y='986.21' width='19.7' height='138.09' fill='#ad66fe' stroke='#000' stroke-width='1.8'/>
<rect x='1042.45' y='968.62' width='19.7' height='155.68' fill='#ad66fe' stroke='#000' stroke-width='1.8'/>
<path d='M896.8,967.72V929.01M892.05,929.01H901.55M892.05,967.72H901.55' stroke='#000' stroke-width='1.8' fill='none'/>
<path d='M927.5,984.43V928.13M922.75,928.13H932.25M922.75,984.43H932.25' stroke='#000' stroke-width='1.8' fill='none'/>
<path d='M958.8,961.56V940.45M954.05,940.45H963.55M954.05,961.56H963.55' stroke='#000' stroke-width='1.8' fill='none'/>
<path d='M989.7,981.79V932.53M984.95,932.53H994.45M984.95,981.79H994.45' stroke='#000' stroke-width='1.8' fill='none'/>
<path d='M1020.6,997.63V973M1015.85,973H1025.35M1015.85,997.63H1025.35' stroke='#000' stroke-width='1.8' fill='none'/>
<path d='M1052.3,987.07V948.37M1047.55,948.37H1057.05M1047.55,987.07H1057.05' stroke='#000' stroke-width='1.8' fill='none'/>
<g fill='#000'><circle cx='896.8' cy='925.5' r='4.7'/><circle cx='890.45' cy='932.53' r='4.7'/><circle cx='896.8' cy='941.33' r='4.7'/><circle cx='890.45' cy='944.85' r='4.7'/><circle cx='896.8' cy='969.48' r='4.7'/><circle cx='890.45' cy='973' r='4.7'/><circle cx='927.5' cy='913.18' r='4.7'/><circle cx='927.5' cy='951.89' r='4.7'/><circle cx='920.62' cy='951.89' r='4.7'/><circle cx='927.5' cy='976.52' r='4.7'/><circle cx='927.5' cy='985.31' r='4.7'/><circle cx='921.15' cy='990.59' r='4.7'/><circle cx='958.8' cy='937.81' r='4.7'/><circle cx='951.92' cy='937.81' r='4.7'/><circle cx='965.68' cy='939.57' r='4.7'/><circle cx='958.8' cy='951.89' r='4.7'/><circle cx='951.92' cy='951.89' r='4.7'/><circle cx='958.8' cy='974.76' r='4.7'/><circle cx='989.7' cy='925.5' r='4.7'/><circle cx='989.7' cy='944.85' r='4.7'/><circle cx='989.7' cy='953.64' r='4.7'/><circle cx='982.82' cy='955.4' r='4.7'/><circle cx='989.7' cy='971.24' r='4.7'/><circle cx='989.7' cy='990.59' r='4.7'/><circle cx='1020.6' cy='969.48' r='4.7'/><circle cx='1013.72' cy='969.48' r='4.7'/><circle cx='1020.6' cy='978.28' r='4.7'/><circle cx='1014.25' cy='983.55' r='4.7'/><circle cx='1020.6' cy='992.35' r='4.7'/><circle cx='1020.6' cy='1008.18' r='4.7'/><circle cx='1052.3' cy='941.33' r='4.7'/><circle cx='1052.3' cy='955.4' r='4.7'/><circle cx='1052.3' cy='965.96' r='4.7'/><circle cx='1045.42' cy='967.72' r='4.7'/><circle cx='1052.3' cy='981.79' r='4.7'/><circle cx='1045.95' cy='987.07' r='4.7'/></g>
<path d='M865.7,860.4H877.2V1124.3M865.7,948.37H877.2M865.7,1036.33H877.2M865.7,1124.3H1073.9M896.8,1124.3V1136.3M927.5,1124.3V1136.3M958.8,1124.3V1136.3M989.7,1124.3V1136.3M1020.6,1124.3V1136.3M1052.3,1124.3V1136.3' stroke='#000' stroke-width='2.0' fill='none' stroke-linecap='butt'/>
<g font-size='20.5' text-anchor='end'><text x='861.4' y='867.47'>1.5</text><text x='861.4' y='955.44'>1.0</text><text x='861.4' y='1043.41'>0.5</text><text x='861.4' y='1131.37'>0.0</text></g>
<g font-size='20.4' text-anchor='end'><text transform='translate(904.5,1151.1) rotate(-45)'>Control</text><text transform='translate(935.62,1151.1) rotate(-45)'>10nM</text><text transform='translate(967.34,1151.1) rotate(-45)'>25nM</text><text transform='translate(998.66,1151.1) rotate(-45)'>50nM</text><text transform='translate(1029.98,1151.1) rotate(-45)'>100nM</text><text transform='translate(1062.1,1151.1) rotate(-45)'>1µM</text></g>
<text x='954.8' y='1216.7' font-size='20.4' text-anchor='middle'>Progesterone concentration</text>
<text transform='translate(828,993) rotate(-90)' font-size='20.3' text-anchor='middle'>Counts relative to control</text>
<text transform='translate(880.8,847.7) scale(0.86,1)' x='-10.12' y='0' font-family="'DejaVu Sans', sans-serif" font-size='28.1' fill='#d4262c'>♀</text>
<text x='959.2' y='849' font-size='29' font-weight='bold' text-anchor='middle'>DIPG004</text>
<path d='M896.8,896.4V892.8H1020.6V896.4' stroke='#000' stroke-width='2' fill='none'/>
<text x='958.7' y='898.8' font-size='24' font-weight='bold' text-anchor='middle' letter-spacing='1.2'>*</text>
</g>
<g id='c4'>
<rect x='1257.85' y='951.9' width='19.7' height='175.5' fill='#85868a' stroke='#000' stroke-width='1.8'/>
<rect x='1288.85' y='959.84' width='19.7' height='167.56' fill='#ad66fe' stroke='#000' stroke-width='1.8'/>
<rect x='1319.95' y='937.79' width='19.7' height='189.61' fill='#ad66fe' stroke='#000' stroke-width='1.8'/>
<rect x='1350.85' y='944.84' width='19.7' height='182.56' fill='#ad66fe' stroke='#000' stroke-width='1.8'/>
<rect x='1382.15' y='992.47' width='19.7' height='134.93' fill='#ad66fe' stroke='#000' stroke-width='1.8'/>
<rect x='1412.95' y='971.3' width='19.7' height='156.1' fill='#ad66fe' stroke='#000' stroke-width='1.8'/>
<path d='M1267.7,977.46V924.54M1262.95,924.54H1272.45M1262.95,977.46H1272.45' stroke='#000' stroke-width='1.8' fill='none'/>
<path d='M1298.7,974.81V943.06M1293.95,943.06H1303.45M1293.95,974.81H1303.45' stroke='#000' stroke-width='1.8' fill='none'/>
<path d='M1329.8,966.88V906.9M1325.05,906.9H1334.55M1325.05,966.88H1334.55' stroke='#000' stroke-width='1.8' fill='none'/>
<path d='M1360.7,970.4V917.48M1355.95,917.48H1365.45M1355.95,970.4H1365.45' stroke='#000' stroke-width='1.8' fill='none'/>
<path d='M1392,1002.16V980.99M1387.25,980.99H1396.75M1387.25,1002.16H1396.75' stroke='#000' stroke-width='1.8' fill='none'/>
<path d='M1422.8,984.52V956.29M1418.05,956.29H1427.55M1418.05,984.52H1427.55' stroke='#000' stroke-width='1.8' fill='none'/>
<g fill='#000'><circle cx='1267.7' cy='899.84' r='4.7'/><circle cx='1267.7' cy='945.71' r='4.7'/><circle cx='1267.7' cy='958.06' r='4.7'/><circle cx='1267.7' cy='968.64' r='4.7'/><circle cx='1261.36' cy='972.17' r='4.7'/><circle cx='1274.05' cy='972.17' r='4.7'/><circle cx='1298.7' cy='936.89' r='4.7'/><circle cx='1298.7' cy='947.47' r='4.7'/><circle cx='1298.7' cy='958.06' r='4.7'/><circle cx='1292.36' cy='963.35' r='4.7'/><circle cx='1298.7' cy='968.64' r='4.7'/><circle cx='1292.36' cy='973.93' r='4.7'/><circle cx='1329.8' cy='898.08' r='4.7'/><circle cx='1329.8' cy='915.72' r='4.7'/><circle cx='1329.8' cy='926.3' r='4.7'/><circle cx='1329.8' cy='936.89' r='4.7'/><circle cx='1329.8' cy='952.76' r='4.7'/><circle cx='1329.8' cy='984.52' r='4.7'/><circle cx='1360.7' cy='892.79' r='4.7'/><circle cx='1360.7' cy='942.18' r='4.7'/><circle cx='1360.7' cy='952.76' r='4.7'/><circle cx='1353.82' cy='954.53' r='4.7'/><circle cx='1367.58' cy='954.53' r='4.7'/><circle cx='1360.7' cy='970.4' r='4.7'/><circle cx='1392' cy='972.17' r='4.7'/><circle cx='1392' cy='989.81' r='4.7'/><circle cx='1385.65' cy='993.34' r='4.7'/><circle cx='1392' cy='996.86' r='4.7'/><circle cx='1385.65' cy='1000.39' r='4.7'/><circle cx='1398.35' cy='1002.16' r='4.7'/><circle cx='1422.8' cy='952.76' r='4.7'/><circle cx='1416.45' cy='958.06' r='4.7'/><circle cx='1422.8' cy='965.11' r='4.7'/><circle cx='1422.8' cy='979.22' r='4.7'/><circle cx='1416.45' cy='982.75' r='4.7'/><circle cx='1429.14' cy='982.75' r='4.7'/></g>
<path d='M1236.5,862.8H1246.7V1127.4M1236.5,951H1246.7M1236.5,1039.2H1246.7M1236.5,1127.4H1444.7M1267.7,1127.4V1139.4M1298.7,1127.4V1139.4M1329.8,1127.4V1139.4M1360.7,1127.4V1139.4M1392,1127.4V1139.4M1422.8,1127.4V1139.4' stroke='#000' stroke-width='2.0' fill='none' stroke-linecap='butt'/>
<g font-size='21.5' text-anchor='end'><text transform='translate(1233.9,871.02) scale(1.16,1)'>1.5</text><text transform='translate(1233.9,959.22) scale(1.16,1)'>1.0</text><text transform='translate(1233.9,1047.42) scale(1.16,1)'>0.5</text><text transform='translate(1233.9,1135.62) scale(1.16,1)'>0.0</text></g>
<g font-size='20.4' text-anchor='end'><text transform='translate(1275.1,1152.7) rotate(-45)'>Control</text><text transform='translate(1306.52,1152.7) rotate(-45)'>10nM</text><text transform='translate(1338.04,1152.7) rotate(-45)'>25nM</text><text transform='translate(1369.36,1152.7) rotate(-45)'>50nM</text><text transform='translate(1401.08,1152.7) rotate(-45)'>100nM</text><text transform='translate(1432.3,1152.7) rotate(-45)'>1µM</text></g>
<text x='1325.1' y='1220' font-size='20.4' text-anchor='middle'>Progesterone concentration</text>
<text transform='translate(1194.8,997) rotate(-90)' font-size='20.3' text-anchor='middle'>Counts relative to control</text>
<text transform='translate(1249.5,846.4) scale(0.76,1)' x='-12.6' y='0' font-family="'DejaVu Sans', sans-serif" font-size='28' fill='#3d86e0'>♂</text>
<text x='1327.8' y='848' font-size='29' font-weight='bold' text-anchor='middle'>DIPG007</text>
<path d='M1267.7,887.3V883.7H1392V887.3' stroke='#000' stroke-width='2' fill='none'/>
<text x='1329.85' y='889.7' font-size='24' font-weight='bold' text-anchor='middle' letter-spacing='1.2'>*</text>
</g>
<g id='d1'>
<rect x='140.5' y='1357.83' width='20.6' height='162.17' fill='#85868a' stroke='#000' stroke-width='1.8'/>
<rect x='174.9' y='1364.85' width='20.6' height='155.15' fill='#b8fcd9' stroke='#000' stroke-width='1.8'/>
<rect x='209.2' y='1349.68' width='20.6' height='170.32' fill='#b8fcd9' stroke='#000' stroke-width='1.8'/>
<rect x='243.4' y='1381.48' width='20.6' height='138.52' fill='#b8fcd9' stroke='#000' stroke-width='1.8'/>
<rect x='277.8' y='1370.06' width='20.6' height='149.94' fill='#b8fcd9' stroke='#000' stroke-width='1.8'/>
<path d='M150.8,1366.72V1347.15M146.05,1347.15H155.55M146.05,1366.72H155.55' stroke='#000' stroke-width='1.8' fill='none'/>
<path d='M185.2,1378.62V1349.27M180.45,1349.27H189.95M180.45,1378.62H189.95' stroke='#000' stroke-width='1.8' fill='none'/>
<path d='M219.5,1365.09V1332.47M214.75,1332.47H224.25M214.75,1365.09H224.25' stroke='#000' stroke-width='1.8' fill='none'/>
<path d='M253.7,1400.15V1361.01M248.95,1361.01H258.45M248.95,1400.15H258.45' stroke='#000' stroke-width='1.8' fill='none'/>
<path d='M288.1,1388.73V1349.6M283.35,1349.6H292.85M283.35,1388.73H292.85' stroke='#000' stroke-width='1.8' fill='none'/>
<g fill='#000'><circle cx='150.8' cy='1340.63' r='4.4'/><circle cx='144.86' cy='1347.15' r='4.4'/><circle cx='150.8' cy='1358.56' r='4.4'/><circle cx='143.63' cy='1360.19' r='4.4'/><circle cx='156.74' cy='1361.83' r='4.4'/><circle cx='150.8' cy='1361.83' r='4.4'/><circle cx='185.2' cy='1348.78' r='4.4'/><circle cx='179.26' cy='1353.67' r='4.4'/><circle cx='185.2' cy='1363.46' r='4.4'/><circle cx='178.03' cy='1363.46' r='4.4'/><circle cx='185.2' cy='1379.76' r='4.4'/><circle cx='179.26' cy='1383.02' r='4.4'/><circle cx='219.5' cy='1329.21' r='4.4'/><circle cx='219.5' cy='1339' r='4.4'/><circle cx='212.33' cy='1340.63' r='4.4'/><circle cx='225.44' cy='1345.52' r='4.4'/><circle cx='219.5' cy='1360.19' r='4.4'/><circle cx='219.5' cy='1381.39' r='4.4'/><circle cx='253.7' cy='1348.78' r='4.4'/><circle cx='253.7' cy='1369.98' r='4.4'/><circle cx='253.7' cy='1381.39' r='4.4'/><circle cx='253.7' cy='1389.55' r='4.4'/><circle cx='247.76' cy='1396.07' r='4.4'/><circle cx='259.64' cy='1396.07' r='4.4'/><circle cx='288.1' cy='1345.52' r='4.4'/><circle cx='288.1' cy='1360.19' r='4.4'/><circle cx='280.93' cy='1360.19' r='4.4'/><circle cx='288.1' cy='1378.13' r='4.4'/><circle cx='282.16' cy='1381.39' r='4.4'/><circle cx='288.1' cy='1387.92' r='4.4'/></g>
<path d='M116,1275.4H126.4V1520M116,1356.93H126.4M116,1438.47H126.4M116,1520H311.4M150.8,1520V1532M185.2,1520V1532M219.5,1520V1532M253.7,1520V1532M288.1,1520V1532' stroke='#000' stroke-width='2.0' fill='none' stroke-linecap='butt'/>
<g font-size='20.5' text-anchor='end'><text x='111.7' y='1282.47'>1.5</text><text x='111.7' y='1364.01'>1.0</text><text x='111.7' y='1445.54'>0.5</text><text x='111.7' y='1527.07'>0.0</text></g>
<g font-size='20.4' text-anchor='middle'><text x='133.8' y='1550.8'>Control</text><text x='183.5' y='1550.8'>2.5</text><text x='219.5' y='1550.8'>5</text><text x='253.7' y='1550.8'>10</text><text x='288.1' y='1550.8'>20</text></g>
<text x='207.3' y='1574.3' font-size='20.4' text-anchor='middle'>Enzalutamide concentration (µM)</text>
<text transform='translate(77.3,1400) rotate(-90)' font-size='20.3' text-anchor='middle'>Counts relative to control</text>
<text transform='translate(170.3,1263.2) scale(0.86,1)' x='-10.12' y='0' font-family="'DejaVu Sans', sans-serif" font-size='28.1' fill='#d4262c'>♀</text>
<text x='214' y='1264.5' font-size='29' font-weight='bold' text-anchor='middle'>ST1</text>
<text x='287.4' y='1264.5' font-size='28' text-anchor='middle'>NS</text>
</g>
<g id='d2'>
<rect x='509.15' y='1394.77' width='20.7' height='124.43' fill='#85868a' stroke='#000' stroke-width='1.8'/>
<rect x='543.45' y='1385.74' width='20.7' height='133.47' fill='#b8fcd9' stroke='#000' stroke-width='1.8'/>
<rect x='577.95' y='1393.31' width='20.7' height='125.89' fill='#b8fcd9' stroke='#000' stroke-width='1.8'/>
<rect x='611.95' y='1390.01' width='20.7' height='129.19' fill='#b8fcd9' stroke='#000' stroke-width='1.8'/>
<rect x='646.25' y='1407.72' width='20.7' height='111.48' fill='#b8fcd9' stroke='#000' stroke-width='1.8'/>
<path d='M519.5,1408.53V1379.22M514.75,1379.22H524.25M514.75,1408.53H524.25' stroke='#000' stroke-width='1.8' fill='none'/>
<path d='M553.8,1410.49V1359.18M549.05,1359.18H558.55M549.05,1410.49H558.55' stroke='#000' stroke-width='1.8' fill='none'/>
<path d='M588.3,1416.84V1367.98M583.55,1367.98H593.05M583.55,1416.84H593.05' stroke='#000' stroke-width='1.8' fill='none'/>
<path d='M622.3,1403.77V1374.45M617.55,1374.45H627.05M617.55,1403.77H627.05' stroke='#000' stroke-width='1.8' fill='none'/>
<path d='M656.6,1412.93V1400.71M651.85,1400.71H661.35M651.85,1412.93H661.35' stroke='#000' stroke-width='1.8' fill='none'/>
<g fill='#000'><circle cx='519.5' cy='1376.28' r='4.4'/><circle cx='512.3' cy='1376.28' r='4.4'/><circle cx='519.5' cy='1394.61' r='4.4'/><circle cx='512.3' cy='1394.61' r='4.4'/><circle cx='519.5' cy='1406.82' r='4.4'/><circle cx='512.3' cy='1406.82' r='4.4'/><circle cx='553.8' cy='1334.75' r='4.4'/><circle cx='553.8' cy='1376.28' r='4.4'/><circle cx='553.8' cy='1390.94' r='4.4'/><circle cx='553.8' cy='1400.71' r='4.4'/><circle cx='546.6' cy='1403.16' r='4.4'/><circle cx='561' cy='1403.16' r='4.4'/><circle cx='588.3' cy='1351.85' r='4.4'/><circle cx='588.3' cy='1381.17' r='4.4'/><circle cx='588.3' cy='1390.94' r='4.4'/><circle cx='581.1' cy='1393.39' r='4.4'/><circle cx='594.24' cy='1397.05' r='4.4'/><circle cx='588.3' cy='1428.81' r='4.4'/><circle cx='622.3' cy='1357.96' r='4.4'/><circle cx='622.3' cy='1390.94' r='4.4'/><circle cx='615.1' cy='1393.39' r='4.4'/><circle cx='628.24' cy='1395.83' r='4.4'/><circle cx='622.3' cy='1397.05' r='4.4'/><circle cx='616.36' cy='1398.27' r='4.4'/><circle cx='656.6' cy='1398.27' r='4.4'/><circle cx='649.4' cy='1399.49' r='4.4'/><circle cx='656.6' cy='1405.6' r='4.4'/><circle cx='650.66' cy='1409.27' r='4.4'/><circle cx='662.54' cy='1411.71' r='4.4'/><circle cx='656.6' cy='1415.37' r='4.4'/></g>
<path d='M485.2,1274.9H496.4V1519.2M485.2,1335.98H496.4M485.2,1397.05H496.4M485.2,1458.12H496.4M485.2,1519.2H679.8M519.5,1519.2V1531.2M553.8,1519.2V1531.2M588.3,1519.2V1531.2M622.3,1519.2V1531.2M656.6,1519.2V1531.2' stroke='#000' stroke-width='2.0' fill='none' stroke-linecap='butt'/>
<g font-size='20.5' text-anchor='end'><text x='480.9' y='1281.97'>2.0</text><text x='480.9' y='1343.05'>1.5</text><text x='480.9' y='1404.12'>1.0</text><text x='480.9' y='1465.2'>0.5</text><text x='480.9' y='1526.27'>0.0</text></g>
<g font-size='20.4' text-anchor='middle'><text x='502.5' y='1550'>Control</text><text x='552.1' y='1550'>2.5</text><text x='588.3' y='1550'>5</text><text x='622.3' y='1550'>10</text><text x='656.6' y='1550'>20</text></g>
<text x='575.4' y='1572.7' font-size='20.4' text-anchor='middle'>Enzalutamide concentration (µM)</text>
<text transform='translate(447,1400) rotate(-90)' font-size='20.3' text-anchor='middle'>Counts relative to control</text>
<text transform='translate(537.7,1262.9) scale(0.76,1)' x='-12.6' y='0' font-family="'DejaVu Sans', sans-serif" font-size='28' fill='#3d86e0'>♂</text>
<text x='584.2' y='1264.5' font-size='29' font-weight='bold' text-anchor='middle'>ST4</text>
<text x='656' y='1264.5' font-size='28' text-anchor='middle'>NS</text>
</g>
<g id='d3'>
<rect x='876.7' y='1360.54' width='21.4' height='159.46' fill='#85868a' stroke='#000' stroke-width='1.8'/>
<rect x='910.9' y='1376.23' width='21.4' height='143.77' fill='#b8fcd9' stroke='#000' stroke-width='1.8'/>
<rect x='945' y='1364.95' width='21.4' height='155.05' fill='#b8fcd9' stroke='#000' stroke-width='1.8'/>
<rect x='979.4' y='1357.43' width='21.4' height='162.57' fill='#b8fcd9' stroke='#000' stroke-width='1.8'/>
<rect x='1013.7' y='1354.16' width='21.4' height='165.84' fill='#b8fcd9' stroke='#000' stroke-width='1.8'/>
<path d='M887.4,1387.43V1331.85M882.65,1331.85H892.15M882.65,1387.43H892.15' stroke='#000' stroke-width='1.8' fill='none'/>
<path d='M921.6,1388.41V1362.25M916.85,1362.25H926.35M916.85,1388.41H926.35' stroke='#000' stroke-width='1.8' fill='none'/>
<path d='M955.7,1380.4V1347.71M950.95,1347.71H960.45M950.95,1380.4H960.45' stroke='#000' stroke-width='1.8' fill='none'/>
<path d='M990.1,1372.88V1340.19M985.35,1340.19H994.85M985.35,1372.88H994.85' stroke='#000' stroke-width='1.8' fill='none'/>
<path d='M1024.4,1385.96V1320.57M1019.65,1320.57H1029.15M1019.65,1385.96H1029.15' stroke='#000' stroke-width='1.8' fill='none'/>
<g fill='#000'><circle cx='887.4' cy='1302.59' r='4.4'/><circle cx='887.4' cy='1363.07' r='4.4'/><circle cx='879.98' cy='1364.71' r='4.4'/><circle cx='894.82' cy='1364.71' r='4.4'/><circle cx='887.4' cy='1366.34' r='4.4'/><circle cx='887.4' cy='1381.05' r='4.4'/><circle cx='921.6' cy='1353.26' r='4.4'/><circle cx='921.6' cy='1364.71' r='4.4'/><circle cx='914.18' cy='1364.71' r='4.4'/><circle cx='921.6' cy='1382.69' r='4.4'/><circle cx='915.66' cy='1385.96' r='4.4'/><circle cx='927.54' cy='1389.23' r='4.4'/><circle cx='955.7' cy='1343.46' r='4.4'/><circle cx='949.76' cy='1346.73' r='4.4'/><circle cx='955.7' cy='1356.53' r='4.4'/><circle cx='949.76' cy='1359.8' r='4.4'/><circle cx='955.7' cy='1372.88' r='4.4'/><circle cx='949.76' cy='1376.15' r='4.4'/><circle cx='990.1' cy='1336.92' r='4.4'/><circle cx='982.68' cy='1336.92' r='4.4'/><circle cx='990.1' cy='1353.26' r='4.4'/><circle cx='990.1' cy='1363.07' r='4.4'/><circle cx='990.1' cy='1371.25' r='4.4'/><circle cx='984.16' cy='1374.51' r='4.4'/><circle cx='1024.4' cy='1299.32' r='4.4'/><circle cx='1024.4' cy='1345.09' r='4.4'/><circle cx='1024.4' cy='1353.26' r='4.4'/><circle cx='1024.4' cy='1363.07' r='4.4'/><circle cx='1024.4' cy='1377.78' r='4.4'/><circle cx='1016.98' cy='1377.78' r='4.4'/></g>
<path d='M852.6,1274.8H864.1V1520M852.6,1356.53H864.1M852.6,1438.27H864.1M852.6,1520H1047.6M887.4,1520V1532M921.6,1520V1532M955.7,1520V1532M990.1,1520V1532M1024.4,1520V1532' stroke='#000' stroke-width='2.0' fill='none' stroke-linecap='butt'/>
<g font-size='20.5' text-anchor='end'><text x='848.3' y='1281.87'>1.5</text><text x='848.3' y='1363.61'>1.0</text><text x='848.3' y='1445.34'>0.5</text><text x='848.3' y='1527.07'>0.0</text></g>
<g font-size='20.4' text-anchor='middle'><text x='870.4' y='1551'>Control</text><text x='919.9' y='1551'>2.5</text><text x='955.7' y='1551'>5</text><text x='990.1' y='1551'>10</text><text x='1024.4' y='1551'>20</text></g>
<text x='944.9' y='1573.7' font-size='20.4' text-anchor='middle'>Enzalutamide concentration (µM)</text>
<text transform='translate(814,1400) rotate(-90)' font-size='20.3' text-anchor='middle'>Counts relative to control</text>
<text transform='translate(870.2,1263.2) scale(0.86,1)' x='-10.12' y='0' font-family="'DejaVu Sans', sans-serif" font-size='28.1' fill='#d4262c'>♀</text>
<text x='949.2' y='1264.5' font-size='29' font-weight='bold' text-anchor='middle'>DIPG004</text>
<text x='1040.3' y='1264.5' font-size='28' text-anchor='middle'>NS</text>
</g>
<g id='d4'>
<rect x='1246' y='1357.43' width='21.2' height='162.57' fill='#85868a' stroke='#000' stroke-width='1.8'/>
<rect x='1280.2' y='1365.61' width='21.2' height='154.39' fill='#b8fcd9' stroke='#000' stroke-width='1.8'/>
<rect x='1314.7' y='1360.05' width='21.2' height='159.95' fill='#b8fcd9' stroke='#000' stroke-width='1.8'/>
<rect x='1348.7' y='1366.75' width='21.2' height='153.25' fill='#b8fcd9' stroke='#000' stroke-width='1.8'/>
<rect x='1383' y='1392.42' width='21.2' height='127.58' fill='#b8fcd9' stroke='#000' stroke-width='1.8'/>
<path d='M1256.6,1369.61V1343.46M1251.85,1343.46H1261.35M1251.85,1369.61H1261.35' stroke='#000' stroke-width='1.8' fill='none'/>
<path d='M1290.8,1390.86V1338.55M1286.05,1338.55H1295.55M1286.05,1390.86H1295.55' stroke='#000' stroke-width='1.8' fill='none'/>
<path d='M1325.3,1372.23V1346.07M1320.55,1346.07H1330.05M1320.55,1372.23H1330.05' stroke='#000' stroke-width='1.8' fill='none'/>
<path d='M1359.3,1387.1V1344.6M1354.55,1344.6H1364.05M1354.55,1387.1H1364.05' stroke='#000' stroke-width='1.8' fill='none'/>
<path d='M1393.6,1404.59V1378.44M1388.85,1378.44H1398.35M1388.85,1404.59H1398.35' stroke='#000' stroke-width='1.8' fill='none'/>
<g fill='#000'><circle cx='1256.6' cy='1336.92' r='4.4'/><circle cx='1256.6' cy='1349.99' r='4.4'/><circle cx='1249.24' cy='1349.99' r='4.4'/><circle cx='1256.6' cy='1361.44' r='4.4'/><circle cx='1250.66' cy='1366.34' r='4.4'/><circle cx='1256.6' cy='1376.15' r='4.4'/><circle cx='1290.8' cy='1323.84' r='4.4'/><circle cx='1290.8' cy='1359.8' r='4.4'/><circle cx='1283.44' cy='1359.8' r='4.4'/><circle cx='1290.8' cy='1384.32' r='4.4'/><circle cx='1290.8' cy='1399.03' r='4.4'/><circle cx='1283.44' cy='1399.03' r='4.4'/><circle cx='1325.3' cy='1346.73' r='4.4'/><circle cx='1317.94' cy='1346.73' r='4.4'/><circle cx='1331.24' cy='1351.63' r='4.4'/><circle cx='1325.3' cy='1359.8' r='4.4'/><circle cx='1317.94' cy='1359.8' r='4.4'/><circle cx='1325.3' cy='1382.69' r='4.4'/><circle cx='1359.3' cy='1335.28' r='4.4'/><circle cx='1359.3' cy='1354.9' r='4.4'/><circle cx='1353.36' cy='1359.8' r='4.4'/><circle cx='1359.3' cy='1363.07' r='4.4'/><circle cx='1359.3' cy='1377.78' r='4.4'/><circle cx='1359.3' cy='1399.03' r='4.4'/><circle cx='1393.6' cy='1379.42' r='4.4'/><circle cx='1386.24' cy='1379.42' r='4.4'/><circle cx='1393.6' cy='1387.59' r='4.4'/><circle cx='1387.66' cy='1390.86' r='4.4'/><circle cx='1393.6' cy='1397.4' r='4.4'/><circle cx='1393.6' cy='1413.75' r='4.4'/></g>
<path d='M1222.2,1274.8H1233.6V1520M1222.2,1356.53H1233.6M1222.2,1438.27H1233.6M1222.2,1520H1417M1256.6,1520V1532M1290.8,1520V1532M1325.3,1520V1532M1359.3,1520V1532M1393.6,1520V1532' stroke='#000' stroke-width='2.0' fill='none' stroke-linecap='butt'/>
<g font-size='20.5' text-anchor='end'><text x='1217.9' y='1281.87'>1.5</text><text x='1217.9' y='1363.61'>1.0</text><text x='1217.9' y='1445.34'>0.5</text><text x='1217.9' y='1527.07'>0.0</text></g>
<g font-size='20.4' text-anchor='middle'><text x='1239.6' y='1551'>Control</text><text x='1289.1' y='1551'>2.5</text><text x='1325.3' y='1551'>5</text><text x='1359.3' y='1551'>10</text><text x='1393.6' y='1551'>20</text></g>
<text x='1314.2' y='1573.7' font-size='20.4' text-anchor='middle'>Enzalutamide concentration (µM)</text>
<text transform='translate(1184,1400) rotate(-90)' font-size='20.3' text-anchor='middle'>Counts relative to control</text>
<text transform='translate(1243.6,1262.9) scale(0.76,1)' x='-12.6' y='0' font-family="'DejaVu Sans', sans-serif" font-size='28' fill='#3d86e0'>♂</text>
<text x='1322' y='1264.5' font-size='29' font-weight='bold' text-anchor='middle'>DIPG007</text>
<path d='M1256.6,1303.6V1300H1393.6V1303.6' stroke='#000' stroke-width='2' fill='none'/>
<text x='1325.1' y='1306' font-size='24' font-weight='bold' text-anchor='middle' letter-spacing='1.2'>*</text>
</g>
<g id='e1'>
<rect x='137.2' y='1720' width='21.4' height='166.5' fill='#85868a' stroke='#000' stroke-width='1.8'/>
<rect x='172.1' y='1723.35' width='21.4' height='163.15' fill='#f1dad6' stroke='#000' stroke-width='1.8'/>
<rect x='207.4' y='1743.44' width='21.4' height='143.06' fill='#f1dad6' stroke='#000' stroke-width='1.8'/>
<rect x='242.3' y='1735.23' width='21.4' height='151.27' fill='#f1dad6' stroke='#000' stroke-width='1.8'/>
<rect x='277.6' y='1740.59' width='21.4' height='145.91' fill='#f1dad6' stroke='#000' stroke-width='1.8'/>
<path d='M147.9,1724.12V1714.08M143.15,1714.08H152.65M143.15,1724.12H152.65' stroke='#000' stroke-width='1.8' fill='none'/>
<path d='M182.8,1749.23V1695.66M178.05,1695.66H187.55M178.05,1749.23H187.55' stroke='#000' stroke-width='1.8' fill='none'/>
<path d='M218.1,1760.95V1724.12M213.35,1724.12H222.85M213.35,1760.95H222.85' stroke='#000' stroke-width='1.8' fill='none'/>
<path d='M253,1756.1V1712.57M248.25,1712.57H257.75M248.25,1756.1H257.75' stroke='#000' stroke-width='1.8' fill='none'/>
<path d='M288.3,1764.8V1714.58M283.55,1714.58H293.05M283.55,1764.8H293.05' stroke='#000' stroke-width='1.8' fill='none'/>
<g fill='#000'><circle cx='147.9' cy='1712.4' r='6.6'/><circle cx='140.48' cy='1715.75' r='6.6'/><circle cx='155.32' cy='1719.1' r='6.6'/><circle cx='147.9' cy='1722.45' r='6.6'/><circle cx='140.48' cy='1722.45' r='6.6'/><circle cx='155.32' cy='1725.8' r='6.6'/><circle cx='182.8' cy='1672.23' r='6.6'/><circle cx='182.8' cy='1719.1' r='6.6'/><circle cx='175.38' cy='1725.8' r='6.6'/><circle cx='182.8' cy='1732.49' r='6.6'/><circle cx='175.38' cy='1740.86' r='6.6'/><circle cx='190.22' cy='1740.86' r='6.6'/><circle cx='218.1' cy='1709.06' r='6.6'/><circle cx='218.1' cy='1734.17' r='6.6'/><circle cx='210.68' cy='1734.17' r='6.6'/><circle cx='218.1' cy='1752.58' r='6.6'/><circle cx='210.68' cy='1755.93' r='6.6'/><circle cx='225.52' cy='1755.93' r='6.6'/><circle cx='253' cy='1693.99' r='6.6'/><circle cx='253' cy='1719.1' r='6.6'/><circle cx='245.58' cy='1724.12' r='6.6'/><circle cx='253' cy='1730.82' r='6.6'/><circle cx='245.58' cy='1737.51' r='6.6'/><circle cx='253' cy='1757.6' r='6.6'/><circle cx='288.3' cy='1705.71' r='6.6'/><circle cx='280.88' cy='1705.71' r='6.6'/><circle cx='288.3' cy='1727.47' r='6.6'/><circle cx='280.88' cy='1734.17' r='6.6'/><circle cx='288.3' cy='1740.86' r='6.6'/><circle cx='288.3' cy='1765.97' r='6.6'/></g>
<path d='M112.7,1635.4H124.8V1886.5M112.7,1719.1H124.8M112.7,1802.8H124.8M112.7,1886.5H312.6M147.9,1886.5V1898.5M182.8,1886.5V1898.5M218.1,1886.5V1898.5M253,1886.5V1898.5M288.3,1886.5V1898.5' stroke='#000' stroke-width='2.0' fill='none' stroke-linecap='butt'/>
<g font-size='20.5' text-anchor='end'><text x='108.4' y='1642.47'>1.5</text><text x='108.4' y='1726.17'>1.0</text><text x='108.4' y='1809.87'>0.5</text><text x='108.4' y='1893.57'>0.0</text></g>
<g font-size='20.4' text-anchor='middle'><text x='130.9' y='1918.9'>Control</text><text x='181.1' y='1918.9'>2.5</text><text x='218.1' y='1918.9'>5</text><text x='253' y='1918.9'>10</text><text x='288.3' y='1918.9'>20</text></g>
<text x='200.5' y='1940.7' font-size='20.4' text-anchor='middle'>MTX-23 concentration (µM)</text>
<text transform='translate(76.2,1762) rotate(-90)' font-size='20.3' text-anchor='middle'>Counts relative to control</text>
<text transform='translate(159.6,1621.8) scale(0.86,1)' x='-10.12' y='0' font-family="'DejaVu Sans', sans-serif" font-size='28.1' fill='#d4262c'>♀</text>
<text x='204.3' y='1623.1' font-size='29' font-weight='bold' text-anchor='middle'>ST1</text>
<text x='286' y='1623.1' font-size='28' text-anchor='middle'>NS</text>
</g>
<g id='e2'>
<rect x='509.2' y='1720.77' width='21.4' height='166.43' fill='#85868a' stroke='#000' stroke-width='1.8'/>
<rect x='544.3' y='1722.44' width='21.4' height='164.76' fill='#f1dad6' stroke='#000' stroke-width='1.8'/>
<rect x='579.3' y='1715.75' width='21.4' height='171.45' fill='#f1dad6' stroke='#000' stroke-width='1.8'/>
<rect x='614.6' y='1710.73' width='21.4' height='176.47' fill='#f1dad6' stroke='#000' stroke-width='1.8'/>
<rect x='649.2' y='1720.77' width='21.4' height='166.43' fill='#f1dad6' stroke='#000' stroke-width='1.8'/>
<path d='M519.9,1736.6V1703.13M515.15,1703.13H524.65M515.15,1736.6H524.65' stroke='#000' stroke-width='1.8' fill='none'/>
<path d='M555,1728.23V1714.85M550.25,1714.85H559.75M550.25,1728.23H559.75' stroke='#000' stroke-width='1.8' fill='none'/>
<path d='M590,1728.23V1701.46M585.25,1701.46H594.75M585.25,1728.23H594.75' stroke='#000' stroke-width='1.8' fill='none'/>
<path d='M625.3,1726.56V1693.09M620.55,1693.09H630.05M620.55,1726.56H630.05' stroke='#000' stroke-width='1.8' fill='none'/>
<path d='M659.9,1733.25V1706.48M655.15,1706.48H664.65M655.15,1733.25H664.65' stroke='#000' stroke-width='1.8' fill='none'/>
<g fill='#000'><circle cx='519.9' cy='1691.42' r='6.6'/><circle cx='519.9' cy='1714.85' r='6.6'/><circle cx='512.48' cy='1714.85' r='6.6'/><circle cx='527.32' cy='1723.21' r='6.6'/><circle cx='519.9' cy='1731.58' r='6.6'/><circle cx='512.48' cy='1734.93' r='6.6'/><circle cx='555' cy='1708.15' r='6.6'/><circle cx='547.58' cy='1708.15' r='6.6'/><circle cx='555' cy='1719.87' r='6.6'/><circle cx='547.58' cy='1719.87' r='6.6'/><circle cx='562.42' cy='1723.21' r='6.6'/><circle cx='555' cy='1729.91' r='6.6'/><circle cx='590' cy='1699.79' r='6.6'/><circle cx='582.58' cy='1703.13' r='6.6'/><circle cx='597.42' cy='1708.15' r='6.6'/><circle cx='582.58' cy='1713.17' r='6.6'/><circle cx='590' cy='1731.58' r='6.6'/><circle cx='582.58' cy='1734.93' r='6.6'/><circle cx='625.3' cy='1693.09' r='6.6'/><circle cx='617.88' cy='1693.09' r='6.6'/><circle cx='625.3' cy='1708.15' r='6.6'/><circle cx='617.88' cy='1714.85' r='6.6'/><circle cx='632.72' cy='1716.52' r='6.6'/><circle cx='625.3' cy='1728.23' r='6.6'/><circle cx='659.9' cy='1696.44' r='6.6'/><circle cx='659.9' cy='1708.15' r='6.6'/><circle cx='652.48' cy='1714.85' r='6.6'/><circle cx='659.9' cy='1723.21' r='6.6'/><circle cx='652.48' cy='1726.56' r='6.6'/><circle cx='659.9' cy='1741.62' r='6.6'/></g>
<path d='M484.9,1636.2H497V1887.2M484.9,1719.87H497M484.9,1803.53H497M484.9,1887.2H684.8M519.9,1887.2V1899.2M555,1887.2V1899.2M590,1887.2V1899.2M625.3,1887.2V1899.2M659.9,1887.2V1899.2' stroke='#000' stroke-width='2.0' fill='none' stroke-linecap='butt'/>
<g font-size='20.5' text-anchor='end'><text x='480.6' y='1643.27'>1.5</text><text x='480.6' y='1726.94'>1.0</text><text x='480.6' y='1810.61'>0.5</text><text x='480.6' y='1894.27'>0.0</text></g>
<g font-size='20.4' text-anchor='middle'><text x='502.9' y='1918.9'>Control</text><text x='553.3' y='1918.9'>2.5</text><text x='590' y='1918.9'>5</text><text x='625.3' y='1918.9'>10</text><text x='659.9' y='1918.9'>20</text></g>
<text x='571' y='1940.7' font-size='20.4' text-anchor='middle'>MTX-23 concentration (µM)</text>
<text transform='translate(447.3,1762) rotate(-90)' font-size='20.3' text-anchor='middle'>Counts relative to control</text>
<text transform='translate(530.1,1621.5) scale(0.76,1)' x='-12.6' y='0' font-family="'DejaVu Sans', sans-serif" font-size='28' fill='#3d86e0'>♂</text>
<text x='577.1' y='1623.1' font-size='29' font-weight='bold' text-anchor='middle'>ST4</text>
<text x='658.5' y='1623.1' font-size='28' text-anchor='middle'>NS</text>
</g>
<g id='e3'>
<rect x='880.1' y='1720.5' width='21.4' height='166.7' fill='#85868a' stroke='#000' stroke-width='1.8'/>
<rect x='914.9' y='1728.88' width='21.4' height='158.32' fill='#f1dad6' stroke='#000' stroke-width='1.8'/>
<rect x='949.6' y='1732.23' width='21.4' height='154.97' fill='#f1dad6' stroke='#000' stroke-width='1.8'/>
<rect x='985.7' y='1723.85' width='21.4' height='163.35' fill='#f1dad6' stroke='#000' stroke-width='1.8'/>
<rect x='1020.3' y='1727.2' width='21.4' height='160' fill='#f1dad6' stroke='#000' stroke-width='1.8'/>
<path d='M890.8,1743.06V1696.14M886.05,1696.14H895.55M886.05,1743.06H895.55' stroke='#000' stroke-width='1.8' fill='none'/>
<path d='M925.6,1736.36V1719.6M920.85,1719.6H930.35M920.85,1736.36H930.35' stroke='#000' stroke-width='1.8' fill='none'/>
<path d='M960.3,1748.09V1714.57M955.55,1714.57H965.05M955.55,1748.09H965.05' stroke='#000' stroke-width='1.8' fill='none'/>
<path d='M996.4,1749.77V1696.14M991.65,1696.14H1001.15M991.65,1749.77H1001.15' stroke='#000' stroke-width='1.8' fill='none'/>
<path d='M1031,1733.01V1719.6M1026.25,1719.6H1035.75M1026.25,1733.01H1035.75' stroke='#000' stroke-width='1.8' fill='none'/>
<g fill='#000'><circle cx='890.8' cy='1664.29' r='6.6'/><circle cx='890.8' cy='1689.43' r='6.6'/><circle cx='890.8' cy='1727.98' r='6.6'/><circle cx='883.38' cy='1733.01' r='6.6'/><circle cx='898.22' cy='1734.68' r='6.6'/><circle cx='890.8' cy='1756.47' r='6.6'/><circle cx='925.6' cy='1707.87' r='6.6'/><circle cx='918.18' cy='1716.25' r='6.6'/><circle cx='925.6' cy='1724.63' r='6.6'/><circle cx='918.18' cy='1727.98' r='6.6'/><circle cx='925.6' cy='1736.36' r='6.6'/><circle cx='918.18' cy='1738.04' r='6.6'/><circle cx='960.3' cy='1697.81' r='6.6'/><circle cx='960.3' cy='1727.98' r='6.6'/><circle cx='952.88' cy='1733.01' r='6.6'/><circle cx='967.72' cy='1733.01' r='6.6'/><circle cx='960.3' cy='1734.68' r='6.6'/><circle cx='960.3' cy='1753.12' r='6.6'/><circle cx='996.4' cy='1667.64' r='6.6'/><circle cx='996.4' cy='1727.98' r='6.6'/><circle cx='988.98' cy='1729.66' r='6.6'/><circle cx='1003.82' cy='1733.01' r='6.6'/><circle cx='996.4' cy='1736.36' r='6.6'/><circle cx='988.98' cy='1738.04' r='6.6'/><circle cx='1031' cy='1711.22' r='6.6'/><circle cx='1023.58' cy='1719.6' r='6.6'/><circle cx='1038.42' cy='1721.28' r='6.6'/><circle cx='1031' cy='1722.95' r='6.6'/><circle cx='1023.58' cy='1729.66' r='6.6'/><circle cx='1038.42' cy='1731.33' r='6.6'/></g>
<path d='M855.3,1635.8H867.5V1887.2M855.3,1719.6H867.5M855.3,1803.4H867.5M855.3,1887.2H1055.4M890.8,1887.2V1899.2M925.6,1887.2V1899.2M960.3,1887.2V1899.2M996.4,1887.2V1899.2M1031,1887.2V1899.2' stroke='#000' stroke-width='2.0' fill='none' stroke-linecap='butt'/>
<g font-size='20.5' text-anchor='end'><text x='851' y='1642.87'>1.5</text><text x='851' y='1726.67'>1.0</text><text x='851' y='1810.47'>0.5</text><text x='851' y='1894.27'>0.0</text></g>
<g font-size='20.4' text-anchor='middle'><text x='873.8' y='1918.9'>Control</text><text x='923.9' y='1918.9'>2.5</text><text x='960.3' y='1918.9'>5</text><text x='996.4' y='1918.9'>10</text><text x='1031' y='1918.9'>20</text></g>
<text x='942.1' y='1940.7' font-size='20.4' text-anchor='middle'>MTX-23 concentration (µM)</text>
<text transform='translate(817.8,1762) rotate(-90)' font-size='20.3' text-anchor='middle'>Counts relative to control</text>
<text transform='translate(869.2,1621.8) scale(0.86,1)' x='-10.12' y='0' font-family="'DejaVu Sans', sans-serif" font-size='28.1' fill='#d4262c'>♀</text>
<text x='947.6' y='1623.1' font-size='29' font-weight='bold' text-anchor='middle'>DIPG004</text>
<text x='1043.2' y='1623.1' font-size='28' text-anchor='middle'>NS</text>
</g>
<g id='e4'>
<rect x='1251.2' y='1700.29' width='21.4' height='187.31' fill='#85868a' stroke='#000' stroke-width='1.8'/>
<rect x='1286.1' y='1727.6' width='21.4' height='160' fill='#f1dad6' stroke='#000' stroke-width='1.8'/>
<rect x='1321.3' y='1716.71' width='21.4' height='170.89' fill='#f1dad6' stroke='#000' stroke-width='1.8'/>
<rect x='1356.6' y='1720.9' width='21.4' height='166.7' fill='#f1dad6' stroke='#000' stroke-width='1.8'/>
<rect x='1391.4' y='1720.9' width='21.4' height='166.7' fill='#f1dad6' stroke='#000' stroke-width='1.8'/>
<path d='M1261.9,1716.15V1682.63M1257.15,1682.63H1266.65M1257.15,1716.15H1266.65' stroke='#000' stroke-width='1.8' fill='none'/>
<path d='M1296.8,1751.84V1701.56M1292.05,1701.56H1301.55M1292.05,1751.84H1301.55' stroke='#000' stroke-width='1.8' fill='none'/>
<path d='M1332,1737.6V1694.02M1327.25,1694.02H1336.75M1327.25,1737.6H1336.75' stroke='#000' stroke-width='1.8' fill='none'/>
<path d='M1367.3,1748.49V1691.51M1362.55,1691.51H1372.05M1362.55,1748.49H1372.05' stroke='#000' stroke-width='1.8' fill='none'/>
<path d='M1402.1,1740.11V1699.89M1397.35,1699.89H1406.85M1397.35,1740.11H1406.85' stroke='#000' stroke-width='1.8' fill='none'/>
<g fill='#000'><circle cx='1261.9' cy='1676.42' r='6.6'/><circle cx='1254.48' cy='1683.13' r='6.6'/><circle cx='1261.9' cy='1689.83' r='6.6'/><circle cx='1254.48' cy='1693.18' r='6.6'/><circle cx='1261.9' cy='1723.35' r='6.6'/><circle cx='1254.48' cy='1726.7' r='6.6'/><circle cx='1296.8' cy='1693.18' r='6.6'/><circle cx='1289.38' cy='1694.86' r='6.6'/><circle cx='1296.8' cy='1731.73' r='6.6'/><circle cx='1289.38' cy='1736.76' r='6.6'/><circle cx='1296.8' cy='1743.46' r='6.6'/><circle cx='1304.22' cy='1743.46' r='6.6'/><circle cx='1332' cy='1679.78' r='6.6'/><circle cx='1332' cy='1706.59' r='6.6'/><circle cx='1324.58' cy='1709.94' r='6.6'/><circle cx='1332' cy='1720' r='6.6'/><circle cx='1324.58' cy='1725.03' r='6.6'/><circle cx='1332' cy='1746.82' r='6.6'/><circle cx='1367.3' cy='1669.72' r='6.6'/><circle cx='1367.3' cy='1714.97' r='6.6'/><circle cx='1359.88' cy='1714.97' r='6.6'/><circle cx='1374.72' cy='1718.32' r='6.6'/><circle cx='1367.3' cy='1725.03' r='6.6'/><circle cx='1359.88' cy='1733.41' r='6.6'/><circle cx='1402.1' cy='1683.13' r='6.6'/><circle cx='1402.1' cy='1693.18' r='6.6'/><circle cx='1402.1' cy='1720' r='6.6'/><circle cx='1394.68' cy='1720' r='6.6'/><circle cx='1402.1' cy='1730.06' r='6.6'/><circle cx='1402.1' cy='1740.11' r='6.6'/></g>
<path d='M1226.6,1636.2H1238.1V1887.6M1226.6,1720H1238.1M1226.6,1803.8H1238.1M1226.6,1887.6H1426.3M1261.9,1887.6V1899.6M1296.8,1887.6V1899.6M1332,1887.6V1899.6M1367.3,1887.6V1899.6M1402.1,1887.6V1899.6' stroke='#000' stroke-width='2.0' fill='none' stroke-linecap='butt'/>
<g font-size='20.5' text-anchor='end'><text x='1222.3' y='1643.27'>1.5</text><text x='1222.3' y='1727.07'>1.0</text><text x='1222.3' y='1810.87'>0.5</text><text x='1222.3' y='1894.67'>0.0</text></g>
<g font-size='20.4' text-anchor='middle'><text x='1244.9' y='1918.9'>Control</text><text x='1295.1' y='1918.9'>2.5</text><text x='1332' y='1918.9'>5</text><text x='1367.3' y='1918.9'>10</text><text x='1402.1' y='1918.9'>20</text></g>
<text x='1313.2' y='1940.7' font-size='20.4' text-anchor='middle'>MTX-23 concentration (µM)</text>
<text transform='translate(1188.4,1762) rotate(-90)' font-size='20.3' text-anchor='middle'>Counts relative to control</text>
<text transform='translate(1239.7,1621.5) scale(0.76,1)' x='-12.6' y='0' font-family="'DejaVu Sans', sans-serif" font-size='28' fill='#3d86e0'>♂</text>
<text x='1318.1' y='1623.1' font-size='29' font-weight='bold' text-anchor='middle'>DIPG007</text>
<text x='1410.4' y='1623.1' font-size='28' text-anchor='middle'>NS</text>
</g>
<g id='f1'>
<rect x='140.3' y='2079.13' width='22.4' height='168.57' fill='#85868a' stroke='#000' stroke-width='1.8'/>
<rect x='176.1' y='2079.13' width='22.4' height='168.57' fill='#55b9a9' stroke='#000' stroke-width='1.8'/>
<rect x='211.5' y='2078.29' width='22.4' height='169.41' fill='#55b9a9' stroke='#000' stroke-width='1.8'/>
<rect x='247.3' y='2077.44' width='22.4' height='170.26' fill='#55b9a9' stroke='#000' stroke-width='1.8'/>
<rect x='283.1' y='2067.27' width='22.4' height='180.43' fill='#55b9a9' stroke='#000' stroke-width='1.8'/>
<path d='M151.5,2090.1V2066.37M146.75,2066.37H156.25M146.75,2090.1H156.25' stroke='#000' stroke-width='1.8' fill='none'/>
<path d='M187.3,2103.65V2052.81M182.55,2052.81H192.05M182.55,2103.65H192.05' stroke='#000' stroke-width='1.8' fill='none'/>
<path d='M222.7,2102.81V2051.97M217.95,2051.97H227.45M217.95,2102.81H227.45' stroke='#000' stroke-width='1.8' fill='none'/>
<path d='M258.5,2110.43V2042.65M253.75,2042.65H263.25M253.75,2110.43H263.25' stroke='#000' stroke-width='1.8' fill='none'/>
<path d='M294.3,2100.26V2032.48M289.55,2032.48H299.05M289.55,2100.26H299.05' stroke='#000' stroke-width='1.8' fill='none'/>
<g fill='#000'><circle cx='151.5' cy='2062.98' r='5.3'/><circle cx='151.5' cy='2074.84' r='5.3'/><circle cx='143.76' cy='2074.84' r='5.3'/><circle cx='159.24' cy='2076.54' r='5.3'/><circle cx='151.5' cy='2085.01' r='5.3'/><circle cx='151.5' cy='2093.49' r='5.3'/><circle cx='187.3' cy='2044.34' r='5.3'/><circle cx='187.3' cy='2057.9' r='5.3'/><circle cx='179.56' cy='2059.59' r='5.3'/><circle cx='187.3' cy='2093.49' r='5.3'/><circle cx='180.15' cy='2098.57' r='5.3'/><circle cx='194.46' cy='2098.57' r='5.3'/><circle cx='222.7' cy='2044.34' r='5.3'/><circle cx='222.7' cy='2057.9' r='5.3'/><circle cx='222.7' cy='2066.37' r='5.3'/><circle cx='222.7' cy='2086.71' r='5.3'/><circle cx='215.54' cy='2091.79' r='5.3'/><circle cx='222.7' cy='2105.35' r='5.3'/><circle cx='258.5' cy='2024' r='5.3'/><circle cx='258.5' cy='2040.95' r='5.3'/><circle cx='258.5' cy='2079.93' r='5.3'/><circle cx='258.5' cy='2090.1' r='5.3'/><circle cx='258.5' cy='2103.65' r='5.3'/><circle cx='258.5' cy='2113.82' r='5.3'/><circle cx='294.3' cy='2025.7' r='5.3'/><circle cx='286.56' cy='2025.7' r='5.3'/><circle cx='294.3' cy='2054.51' r='5.3'/><circle cx='294.3' cy='2085.01' r='5.3'/><circle cx='286.56' cy='2088.4' r='5.3'/><circle cx='294.3' cy='2108.74' r='5.3'/></g>
<path d='M116,1993.5H127.7V2247.7M116,2078.23H127.7M116,2162.97H127.7M116,2247.7H318.1M151.5,2247.7V2259.7M187.3,2247.7V2259.7M222.7,2247.7V2259.7M258.5,2247.7V2259.7M294.3,2247.7V2259.7' stroke='#000' stroke-width='2.0' fill='none' stroke-linecap='butt'/>
<g font-size='20.5' text-anchor='end'><text x='111.7' y='2000.57'>1.5</text><text x='111.7' y='2085.31'>1.0</text><text x='111.7' y='2170.04'>0.5</text><text x='111.7' y='2254.77'>0.0</text></g>
<g font-size='20.4' text-anchor='middle'><text x='134.5' y='2279.4'>Control</text><text x='185.6' y='2279.4'>2.5</text><text x='222.7' y='2279.4'>5</text><text x='258.5' y='2279.4'>10</text><text x='294.3' y='2279.4'>20</text></g>
<text x='204.9' y='2302.7' font-size='20.4' text-anchor='middle'>Enzalutamide concentration (µM)</text>
<text x='204.4' y='2325.7' font-size='20.4' text-anchor='middle'>Pre-treat w/ 50nM Testosterone</text>
<text transform='translate(77.3,2122) rotate(-90)' font-size='20.3' text-anchor='middle'>Counts relative to control</text>
<text transform='translate(173.4,1979.7) scale(0.86,1)' x='-10.12' y='0' font-family="'DejaVu Sans', sans-serif" font-size='28.1' fill='#d4262c'>♀</text>
<text x='218.1' y='1981' font-size='29' font-weight='bold' text-anchor='middle'>ST1</text>
<text x='293.8' y='1981' font-size='28' text-anchor='middle'>NS</text>
</g>
<g id='f2'>
<rect x='504.4' y='2080.49' width='22.2' height='167.21' fill='#85868a' stroke='#000' stroke-width='1.8'/>
<rect x='540.6' y='2089.3' width='22.2' height='158.4' fill='#55b9a9' stroke='#000' stroke-width='1.8'/>
<rect x='575.9' y='2052.87' width='22.2' height='194.83' fill='#55b9a9' stroke='#000' stroke-width='1.8'/>
<rect x='611.6' y='2091.5' width='22.2' height='156.2' fill='#55b9a9' stroke='#000' stroke-width='1.8'/>
<rect x='647.4' y='2071.85' width='22.2' height='175.85' fill='#55b9a9' stroke='#000' stroke-width='1.8'/>
<path d='M515.5,2098.23V2060.95M510.75,2060.95H520.25M510.75,2098.23H520.25' stroke='#000' stroke-width='1.8' fill='none'/>
<path d='M551.7,2107.04V2069.76M546.95,2069.76H556.45M546.95,2107.04H556.45' stroke='#000' stroke-width='1.8' fill='none'/>
<path d='M587,2075.69V2028.24M582.25,2028.24H591.75M582.25,2075.69H591.75' stroke='#000' stroke-width='1.8' fill='none'/>
<path d='M622.7,2110.94V2070.27M617.95,2070.27H627.45M617.95,2110.94H627.45' stroke='#000' stroke-width='1.8' fill='none'/>
<path d='M658.5,2092.98V2048.92M653.75,2048.92H663.25M653.75,2092.98H663.25' stroke='#000' stroke-width='1.8' fill='none'/>
<g fill='#000'><circle cx='515.5' cy='2044.34' r='5.3'/><circle cx='515.5' cy='2073.15' r='5.3'/><circle cx='515.5' cy='2085.01' r='5.3'/><circle cx='508.35' cy='2090.1' r='5.3'/><circle cx='522.65' cy='2091.79' r='5.3'/><circle cx='515.5' cy='2091.79' r='5.3'/><circle cx='551.7' cy='2074.84' r='5.3'/><circle cx='544.02' cy='2074.84' r='5.3'/><circle cx='559.38' cy='2076.54' r='5.3'/><circle cx='551.7' cy='2085.01' r='5.3'/><circle cx='551.7' cy='2101.96' r='5.3'/><circle cx='544.02' cy='2105.35' r='5.3'/><circle cx='587' cy='2025.7' r='5.3'/><circle cx='579.32' cy='2025.7' r='5.3'/><circle cx='587' cy='2047.73' r='5.3'/><circle cx='579.85' cy='2054.51' r='5.3'/><circle cx='587' cy='2078.23' r='5.3'/><circle cx='579.32' cy='2081.62' r='5.3'/><circle cx='622.7' cy='2076.54' r='5.3'/><circle cx='615.02' cy='2078.23' r='5.3'/><circle cx='630.38' cy='2078.23' r='5.3'/><circle cx='622.7' cy='2079.93' r='5.3'/><circle cx='622.7' cy='2105.35' r='5.3'/><circle cx='615.02' cy='2107.04' r='5.3'/><circle cx='658.5' cy='2047.73' r='5.3'/><circle cx='650.82' cy='2047.73' r='5.3'/><circle cx='658.5' cy='2059.59' r='5.3'/><circle cx='650.82' cy='2061.29' r='5.3'/><circle cx='658.5' cy='2090.1' r='5.3'/><circle cx='658.5' cy='2100.26' r='5.3'/></g>
<path d='M480.5,1993.5H491.9V2247.7M480.5,2078.23H491.9M480.5,2162.97H491.9M480.5,2247.7H682.6M515.5,2247.7V2259.7M551.7,2247.7V2259.7M587,2247.7V2259.7M622.7,2247.7V2259.7M658.5,2247.7V2259.7' stroke='#000' stroke-width='2.0' fill='none' stroke-linecap='butt'/>
<g font-size='20.5' text-anchor='end'><text x='476.2' y='2000.57'>1.5</text><text x='476.2' y='2085.31'>1.0</text><text x='476.2' y='2170.04'>0.5</text><text x='476.2' y='2254.77'>0.0</text></g>
<g font-size='20.4' text-anchor='middle'><text x='498.5' y='2279.4'>Control</text><text x='550' y='2279.4'>2.5</text><text x='587' y='2279.4'>5</text><text x='622.7' y='2279.4'>10</text><text x='658.5' y='2279.4'>20</text></g>
<text x='569.4' y='2302.7' font-size='20.4' text-anchor='middle'>Enzalutamide concentration (µM)</text>
<text x='569.4' y='2325.7' font-size='20.4' text-anchor='middle'>Pre-treat w/ 50nM Testosterone</text>
<text transform='translate(441,2122) rotate(-90)' font-size='20.3' text-anchor='middle'>Counts relative to control</text>
<text transform='translate(536.7,1979.4) scale(0.76,1)' x='-12.6' y='0' font-family="'DejaVu Sans', sans-serif" font-size='28' fill='#3d86e0'>♂</text>
<text x='583.2' y='1981' font-size='29' font-weight='bold' text-anchor='middle'>ST4</text>
<text x='660.3' y='1981' font-size='28' text-anchor='middle'>NS</text>
</g>
<g id='f3'>
<rect x='868.95' y='2079.98' width='22.1' height='167.72' fill='#85868a' stroke='#000' stroke-width='1.8'/>
<rect x='904.85' y='2048.97' width='22.1' height='198.73' fill='#55b9a9' stroke='#000' stroke-width='1.8'/>
<rect x='940.15' y='2053.71' width='22.1' height='193.99' fill='#55b9a9' stroke='#000' stroke-width='1.8'/>
<rect x='975.75' y='2060.15' width='22.1' height='187.55' fill='#55b9a9' stroke='#000' stroke-width='1.8'/>
<rect x='1011.55' y='2063.54' width='22.1' height='184.16' fill='#55b9a9' stroke='#000' stroke-width='1.8'/>
<path d='M880,2089.25V2068.91M875.25,2068.91H884.75M875.25,2089.25H884.75' stroke='#000' stroke-width='1.8' fill='none'/>
<path d='M915.9,2076.88V2019.26M911.15,2019.26H920.65M911.15,2076.88H920.65' stroke='#000' stroke-width='1.8' fill='none'/>
<path d='M951.2,2074.84V2030.78M946.45,2030.78H955.95M946.45,2074.84H955.95' stroke='#000' stroke-width='1.8' fill='none'/>
<path d='M986.8,2079.59V2038.92M982.05,2038.92H991.55M982.05,2079.59H991.55' stroke='#000' stroke-width='1.8' fill='none'/>
<path d='M1022.6,2084.67V2040.61M1017.85,2040.61H1027.35M1017.85,2084.67H1027.35' stroke='#000' stroke-width='1.8' fill='none'/>
<g fill='#000'><circle cx='880' cy='2061.29' r='5.3'/><circle cx='880' cy='2074.84' r='5.3'/><circle cx='872.85' cy='2081.62' r='5.3'/><circle cx='887.15' cy='2081.62' r='5.3'/><circle cx='880' cy='2085.01' r='5.3'/><circle cx='872.35' cy='2085.01' r='5.3'/><circle cx='915.9' cy='2000.28' r='5.3'/><circle cx='915.9' cy='2032.48' r='5.3'/><circle cx='915.9' cy='2054.51' r='5.3'/><circle cx='908.75' cy='2059.59' r='5.3'/><circle cx='915.9' cy='2071.45' r='5.3'/><circle cx='908.25' cy='2071.45' r='5.3'/><circle cx='951.2' cy='2008.75' r='5.3'/><circle cx='951.2' cy='2051.12' r='5.3'/><circle cx='943.55' cy='2051.12' r='5.3'/><circle cx='958.36' cy='2057.9' r='5.3'/><circle cx='944.05' cy='2057.9' r='5.3'/><circle cx='951.2' cy='2061.29' r='5.3'/><circle cx='986.8' cy='2018.92' r='5.3'/><circle cx='986.8' cy='2052.81' r='5.3'/><circle cx='986.8' cy='2066.37' r='5.3'/><circle cx='979.15' cy='2066.37' r='5.3'/><circle cx='986.8' cy='2078.23' r='5.3'/><circle cx='979.15' cy='2078.23' r='5.3'/><circle cx='1022.6' cy='2025.7' r='5.3'/><circle cx='1022.6' cy='2057.9' r='5.3'/><circle cx='1014.95' cy='2057.9' r='5.3'/><circle cx='1022.6' cy='2068.07' r='5.3'/><circle cx='1022.6' cy='2079.93' r='5.3'/><circle cx='1014.95' cy='2083.32' r='5.3'/></g>
<path d='M845,1993.5H856.4V2247.7M845,2078.23H856.4M845,2162.97H856.4M845,2247.7H1047M880,2247.7V2259.7M915.9,2247.7V2259.7M951.2,2247.7V2259.7M986.8,2247.7V2259.7M1022.6,2247.7V2259.7' stroke='#000' stroke-width='2.0' fill='none' stroke-linecap='butt'/>
<g font-size='20.5' text-anchor='end'><text x='840.7' y='2000.57'>1.5</text><text x='840.7' y='2085.31'>1.0</text><text x='840.7' y='2170.04'>0.5</text><text x='840.7' y='2254.77'>0.0</text></g>
<g font-size='20.4' text-anchor='middle'><text x='863' y='2279.4'>Control</text><text x='914.2' y='2279.4'>2.5</text><text x='951.2' y='2279.4'>5</text><text x='986.8' y='2279.4'>10</text><text x='1022.6' y='2279.4'>20</text></g>
<text x='933.9' y='2302.7' font-size='20.4' text-anchor='middle'>Enzalutamide concentration (µM)</text>
<text x='933.9' y='2325.7' font-size='20.4' text-anchor='middle'>Pre-treat w/ 50nM Testosterone</text>
<text transform='translate(805.8,2122) rotate(-90)' font-size='20.3' text-anchor='middle'>Counts relative to control</text>
<text transform='translate(861.5,1979.7) scale(0.86,1)' x='-10.12' y='0' font-family="'DejaVu Sans', sans-serif" font-size='28.1' fill='#d4262c'>♀</text>
<text x='939.4' y='1981' font-size='29' font-weight='bold' text-anchor='middle'>DIPG004</text>
<text x='1040.4' y='1981' font-size='28' text-anchor='middle'>NS</text>
</g>
<g id='f4'>
<rect x='1234.4' y='2079.13' width='22.2' height='168.57' fill='#85868a' stroke='#000' stroke-width='1.8'/>
<rect x='1270' y='2116.42' width='22.2' height='131.28' fill='#55b9a9' stroke='#000' stroke-width='1.8'/>
<rect x='1305.4' y='2105.4' width='22.2' height='142.3' fill='#55b9a9' stroke='#000' stroke-width='1.8'/>
<rect x='1341.4' y='2096.59' width='22.2' height='151.11' fill='#55b9a9' stroke='#000' stroke-width='1.8'/>
<rect x='1376.9' y='2086.76' width='22.2' height='160.94' fill='#55b9a9' stroke='#000' stroke-width='1.8'/>
<path d='M1245.5,2103.65V2052.81M1240.75,2052.81H1250.25M1240.75,2103.65H1250.25' stroke='#000' stroke-width='1.8' fill='none'/>
<path d='M1281.1,2134.16V2096.87M1276.35,2096.87H1285.85M1276.35,2134.16H1285.85' stroke='#000' stroke-width='1.8' fill='none'/>
<path d='M1316.5,2121.45V2087.55M1311.75,2087.55H1321.25M1311.75,2121.45H1321.25' stroke='#000' stroke-width='1.8' fill='none'/>
<path d='M1352.5,2112.64V2078.74M1347.75,2078.74H1357.25M1347.75,2112.64H1357.25' stroke='#000' stroke-width='1.8' fill='none'/>
<path d='M1388,2090.94V2080.78M1383.25,2080.78H1392.75M1383.25,2090.94H1392.75' stroke='#000' stroke-width='1.8' fill='none'/>
<g fill='#000'><circle cx='1245.5' cy='2030.78' r='5.3'/><circle cx='1245.5' cy='2068.07' r='5.3'/><circle cx='1245.5' cy='2090.1' r='5.3'/><circle cx='1237.82' cy='2090.1' r='5.3'/><circle cx='1252.65' cy='2095.18' r='5.3'/><circle cx='1238.35' cy='2098.57' r='5.3'/><circle cx='1281.1' cy='2083.32' r='5.3'/><circle cx='1281.1' cy='2108.74' r='5.3'/><circle cx='1273.42' cy='2112.13' r='5.3'/><circle cx='1288.25' cy='2115.52' r='5.3'/><circle cx='1281.1' cy='2120.6' r='5.3'/><circle cx='1273.42' cy='2120.6' r='5.3'/><circle cx='1316.5' cy='2078.23' r='5.3'/><circle cx='1309.35' cy='2085.01' r='5.3'/><circle cx='1316.5' cy='2108.74' r='5.3'/><circle cx='1308.82' cy='2112.13' r='5.3'/><circle cx='1316.5' cy='2118.91' r='5.3'/><circle cx='1324.18' cy='2118.91' r='5.3'/><circle cx='1352.5' cy='2076.54' r='5.3'/><circle cx='1345.35' cy='2083.32' r='5.3'/><circle cx='1352.5' cy='2100.26' r='5.3'/><circle cx='1344.82' cy='2100.26' r='5.3'/><circle cx='1352.5' cy='2112.13' r='5.3'/><circle cx='1344.82' cy='2112.13' r='5.3'/><circle cx='1388' cy='2079.93' r='5.3'/><circle cx='1380.85' cy='2085.01' r='5.3'/><circle cx='1395.15' cy='2086.71' r='5.3'/><circle cx='1388' cy='2090.1' r='5.3'/><circle cx='1380.32' cy='2093.49' r='5.3'/><circle cx='1395.15' cy='2096.87' r='5.3'/></g>
<path d='M1210,1993.5H1221.5V2247.7M1210,2078.23H1221.5M1210,2162.97H1221.5M1210,2247.7H1412.6M1245.5,2247.7V2259.7M1281.1,2247.7V2259.7M1316.5,2247.7V2259.7M1352.5,2247.7V2259.7M1388,2247.7V2259.7' stroke='#000' stroke-width='2.0' fill='none' stroke-linecap='butt'/>
<g font-size='20.5' text-anchor='end'><text x='1205.7' y='2000.57'>1.5</text><text x='1205.7' y='2085.31'>1.0</text><text x='1205.7' y='2170.04'>0.5</text><text x='1205.7' y='2254.77'>0.0</text></g>
<g font-size='20.4' text-anchor='middle'><text x='1228.5' y='2281.7'>Control</text><text x='1279.4' y='2281.7'>2.5</text><text x='1316.5' y='2281.7'>5</text><text x='1352.5' y='2281.7'>10</text><text x='1388' y='2281.7'>20</text></g>
<text x='1298.3' y='2306.7' font-size='20.4' text-anchor='middle'>Enzalutamide concentration (µM)</text>
<text x='1297.7' y='2330.2' font-size='20.4' text-anchor='middle'>Pre-treat w/ 50nM Testosterone</text>
<text transform='translate(1170.7,2122) rotate(-90)' font-size='20.3' text-anchor='middle'>Counts relative to control</text>
<text transform='translate(1233.1,1979.4) scale(0.76,1)' x='-12.6' y='0' font-family="'DejaVu Sans', sans-serif" font-size='28' fill='#3d86e0'>♂</text>
<text x='1312' y='1981' font-size='29' font-weight='bold' text-anchor='middle'>DIPG007</text>
<path d='M1245.5,2012.5V2008.9H1281.1V2012.5' stroke='#000' stroke-width='2' fill='none'/>
<text x='1263.3' y='2014.9' font-size='24' font-weight='bold' text-anchor='middle' letter-spacing='1.2'>*</text>
</g>
<g id='g1'>
<rect x='138.3' y='2467.7' width='21.4' height='166.7' fill='#85868a' stroke='#000' stroke-width='1.8'/>
<rect x='173.9' y='2477.76' width='21.4' height='156.64' fill='#ef8b4b' stroke='#000' stroke-width='1.8'/>
<rect x='208.9' y='2455.97' width='21.4' height='178.43' fill='#ef8b4b' stroke='#000' stroke-width='1.8'/>
<rect x='243.9' y='2476.08' width='21.4' height='158.32' fill='#ef8b4b' stroke='#000' stroke-width='1.8'/>
<rect x='279.2' y='2474.4' width='21.4' height='160' fill='#ef8b4b' stroke='#000' stroke-width='1.8'/>
<path d='M149,2476.86V2456.74M144.25,2456.74H153.75M144.25,2476.86H153.75' stroke='#000' stroke-width='1.8' fill='none'/>
<path d='M184.6,2480.21V2473.5M179.85,2473.5H189.35M179.85,2480.21H189.35' stroke='#000' stroke-width='1.8' fill='none'/>
<path d='M219.6,2466.8V2443.34M214.85,2443.34H224.35M214.85,2466.8H224.35' stroke='#000' stroke-width='1.8' fill='none'/>
<path d='M254.6,2478.53V2471.83M249.85,2471.83H259.35M249.85,2478.53H259.35' stroke='#000' stroke-width='1.8' fill='none'/>
<path d='M289.9,2502V2445.01M285.15,2445.01H294.65M285.15,2502H294.65' stroke='#000' stroke-width='1.8' fill='none'/>
<g fill='#000'><circle cx='149' cy='2450.04' r='6.9'/><circle cx='149' cy='2463.45' r='6.9'/><circle cx='141.58' cy='2463.45' r='6.9'/><circle cx='156.42' cy='2468.48' r='6.9'/><circle cx='141.58' cy='2475.18' r='6.9'/><circle cx='149' cy='2485.24' r='6.9'/><circle cx='184.6' cy='2471.83' r='6.9'/><circle cx='177.18' cy='2473.5' r='6.9'/><circle cx='192.02' cy='2475.18' r='6.9'/><circle cx='184.6' cy='2476.86' r='6.9'/><circle cx='177.18' cy='2480.21' r='6.9'/><circle cx='192.02' cy='2483.56' r='6.9'/><circle cx='219.6' cy='2426.58' r='6.9'/><circle cx='212.18' cy='2436.63' r='6.9'/><circle cx='219.6' cy='2455.07' r='6.9'/><circle cx='219.6' cy='2466.8' r='6.9'/><circle cx='212.18' cy='2470.15' r='6.9'/><circle cx='227.02' cy='2475.18' r='6.9'/><circle cx='254.6' cy='2468.48' r='6.9'/><circle cx='247.18' cy='2470.15' r='6.9'/><circle cx='262.02' cy='2473.5' r='6.9'/><circle cx='254.6' cy='2475.18' r='6.9'/><circle cx='247.18' cy='2476.86' r='6.9'/><circle cx='262.02' cy='2476.86' r='6.9'/><circle cx='289.9' cy='2429.93' r='6.9'/><circle cx='289.9' cy='2460.1' r='6.9'/><circle cx='282.48' cy='2465.12' r='6.9'/><circle cx='297.32' cy='2470.15' r='6.9'/><circle cx='289.9' cy='2471.83' r='6.9'/><circle cx='282.48' cy='2478.53' r='6.9'/></g>
<path d='M114.9,2383H126.6V2634.4M114.9,2466.8H126.6M114.9,2550.6H126.6M114.9,2634.4H314.1M149,2634.4V2646.4M184.6,2634.4V2646.4M219.6,2634.4V2646.4M254.6,2634.4V2646.4M289.9,2634.4V2646.4' stroke='#000' stroke-width='2.0' fill='none' stroke-linecap='butt'/>
<g font-size='20.5' text-anchor='end'><text x='110.6' y='2390.07'>1.5</text><text x='110.6' y='2473.87'>1.0</text><text x='110.6' y='2557.67'>0.5</text><text x='110.6' y='2641.47'>0.0</text></g>
<g font-size='20.4' text-anchor='middle'><text x='132' y='2666.8'>Control</text><text x='182.9' y='2666.8'>2.5</text><text x='219.6' y='2666.8'>5</text><text x='254.6' y='2666.8'>10</text><text x='289.9' y='2666.8'>20</text></g>
<text x='201' y='2690.8' font-size='20.4' text-anchor='middle'>MTX-23 concentration (µM)</text>
<text x='201' y='2712.6' font-size='20.4' text-anchor='middle'>Pre-treat w/ 50nM Testosterone</text>
<text transform='translate(76.2,2510) rotate(-90)' font-size='20.3' text-anchor='middle'>Counts relative to control</text>
<text transform='translate(169.5,2369.9) scale(0.86,1)' x='-10.12' y='0' font-family="'DejaVu Sans', sans-serif" font-size='28.1' fill='#d4262c'>♀</text>
<text x='214.3' y='2371.2' font-size='29' font-weight='bold' text-anchor='middle'>ST1</text>
<text x='291.6' y='2371.2' font-size='28' text-anchor='middle'>NS</text>
</g>
<g id='g2'>
<rect x='518.5' y='2469.38' width='21.4' height='165.02' fill='#85868a' stroke='#000' stroke-width='1.8'/>
<rect x='553.8' y='2476.08' width='21.4' height='158.32' fill='#ef8b4b' stroke='#000' stroke-width='1.8'/>
<rect x='589.1' y='2467.7' width='21.4' height='166.7' fill='#ef8b4b' stroke='#000' stroke-width='1.8'/>
<rect x='623.8' y='2471.05' width='21.4' height='163.35' fill='#ef8b4b' stroke='#000' stroke-width='1.8'/>
<rect x='659.4' y='2477.76' width='21.4' height='156.64' fill='#ef8b4b' stroke='#000' stroke-width='1.8'/>
<path d='M529.2,2490.26V2446.69M524.45,2446.69H533.95M524.45,2490.26H533.95' stroke='#000' stroke-width='1.8' fill='none'/>
<path d='M564.5,2491.94V2458.42M559.75,2458.42H569.25M559.75,2491.94H569.25' stroke='#000' stroke-width='1.8' fill='none'/>
<path d='M599.8,2502V2431.6M595.05,2431.6H604.55M595.05,2502H604.55' stroke='#000' stroke-width='1.8' fill='none'/>
<path d='M634.5,2498.64V2441.66M629.75,2441.66H639.25M629.75,2498.64H639.25' stroke='#000' stroke-width='1.8' fill='none'/>
<path d='M670.1,2502V2451.72M665.35,2451.72H674.85M665.35,2502H674.85' stroke='#000' stroke-width='1.8' fill='none'/>
<g fill='#000'><circle cx='529.2' cy='2439.98' r='6.9'/><circle cx='529.2' cy='2455.07' r='6.9'/><circle cx='521.78' cy='2461.77' r='6.9'/><circle cx='529.2' cy='2470.15' r='6.9'/><circle cx='521.78' cy='2471.83' r='6.9'/><circle cx='529.2' cy='2503.67' r='6.9'/><circle cx='564.5' cy='2460.1' r='6.9'/><circle cx='557.08' cy='2461.77' r='6.9'/><circle cx='571.92' cy='2463.45' r='6.9'/><circle cx='564.5' cy='2471.83' r='6.9'/><circle cx='564.5' cy='2493.62' r='6.9'/><circle cx='557.08' cy='2502' r='6.9'/><circle cx='599.8' cy='2408.14' r='6.9'/><circle cx='599.8' cy='2461.77' r='6.9'/><circle cx='592.38' cy='2461.77' r='6.9'/><circle cx='607.22' cy='2461.77' r='6.9'/><circle cx='599.8' cy='2490.26' r='6.9'/><circle cx='599.8' cy='2502' r='6.9'/><circle cx='634.5' cy='2426.58' r='6.9'/><circle cx='634.5' cy='2460.1' r='6.9'/><circle cx='627.08' cy='2463.45' r='6.9'/><circle cx='634.5' cy='2476.86' r='6.9'/><circle cx='634.5' cy='2503.67' r='6.9'/><circle cx='627.08' cy='2503.67' r='6.9'/><circle cx='670.1' cy='2439.98' r='6.9'/><circle cx='670.1' cy='2470.15' r='6.9'/><circle cx='662.68' cy='2470.15' r='6.9'/><circle cx='677.52' cy='2471.83' r='6.9'/><circle cx='670.1' cy='2495.29' r='6.9'/><circle cx='670.1' cy='2510.38' r='6.9'/></g>
<path d='M494.8,2383H505.9V2634.4M494.8,2466.8H505.9M494.8,2550.6H505.9M494.8,2634.4H693.6M529.2,2634.4V2646.4M564.5,2634.4V2646.4M599.8,2634.4V2646.4M634.5,2634.4V2646.4M670.1,2634.4V2646.4' stroke='#000' stroke-width='2.0' fill='none' stroke-linecap='butt'/>
<g font-size='20.5' text-anchor='end'><text x='490.5' y='2390.07'>1.5</text><text x='490.5' y='2473.87'>1.0</text><text x='490.5' y='2557.67'>0.5</text><text x='490.5' y='2641.47'>0.0</text></g>
<g font-size='20.4' text-anchor='middle'><text x='512.2' y='2666.8'>Control</text><text x='562.8' y='2666.8'>2.5</text><text x='599.8' y='2666.8'>5</text><text x='634.5' y='2666.8'>10</text><text x='670.1' y='2666.8'>20</text></g>
<text x='581.6' y='2690.8' font-size='20.4' text-anchor='middle'>MTX-23 concentration (µM)</text>
<text x='580.4' y='2712.6' font-size='20.4' text-anchor='middle'>Pre-treat w/ 50nM Testosterone</text>
<text transform='translate(456.2,2510) rotate(-90)' font-size='20.3' text-anchor='middle'>Counts relative to control</text>
<text transform='translate(548.3,2369.6) scale(0.76,1)' x='-12.6' y='0' font-family="'DejaVu Sans', sans-serif" font-size='28' fill='#3d86e0'>♂</text>
<text x='595.3' y='2371.2' font-size='29' font-weight='bold' text-anchor='middle'>ST4</text>
<text x='671.5' y='2371.2' font-size='28' text-anchor='middle'>NS</text>
</g>
<g id='g3'>
<rect x='898.9' y='2469.38' width='21.4' height='165.02' fill='#85868a' stroke='#000' stroke-width='1.8'/>
<rect x='934.2' y='2471.05' width='21.4' height='163.35' fill='#ef8b4b' stroke='#000' stroke-width='1.8'/>
<rect x='969.1' y='2451.95' width='21.4' height='182.45' fill='#ef8b4b' stroke='#000' stroke-width='1.8'/>
<rect x='1004' y='2447.59' width='21.4' height='186.81' fill='#ef8b4b' stroke='#000' stroke-width='1.8'/>
<rect x='1039.1' y='2445.91' width='21.4' height='188.49' fill='#ef8b4b' stroke='#000' stroke-width='1.8'/>
<path d='M909.6,2475.18V2461.77M904.85,2461.77H914.35M904.85,2475.18H914.35' stroke='#000' stroke-width='1.8' fill='none'/>
<path d='M944.9,2473.5V2466.8M940.15,2466.8H949.65M940.15,2473.5H949.65' stroke='#000' stroke-width='1.8' fill='none'/>
<path d='M979.8,2479.54V2422.55M975.05,2422.55H984.55M975.05,2479.54H984.55' stroke='#000' stroke-width='1.8' fill='none'/>
<path d='M1014.7,2461.77V2431.6M1009.95,2431.6H1019.45M1009.95,2461.77H1019.45' stroke='#000' stroke-width='1.8' fill='none'/>
<path d='M1049.8,2465.12V2424.9M1045.05,2424.9H1054.55M1045.05,2465.12H1054.55' stroke='#000' stroke-width='1.8' fill='none'/>
<g fill='#000'><circle cx='909.6' cy='2446.69' r='6.9'/><circle cx='902.18' cy='2455.07' r='6.9'/><circle cx='909.6' cy='2470.15' r='6.9'/><circle cx='902.18' cy='2470.15' r='6.9'/><circle cx='917.02' cy='2471.83' r='6.9'/><circle cx='909.6' cy='2480.21' r='6.9'/><circle cx='944.9' cy='2461.77' r='6.9'/><circle cx='937.48' cy='2463.45' r='6.9'/><circle cx='952.32' cy='2466.8' r='6.9'/><circle cx='944.9' cy='2468.48' r='6.9'/><circle cx='937.48' cy='2470.15' r='6.9'/><circle cx='952.32' cy='2471.83' r='6.9'/><circle cx='979.8' cy='2394.73' r='6.9'/><circle cx='979.8' cy='2451.72' r='6.9'/><circle cx='972.38' cy='2460.1' r='6.9'/><circle cx='987.22' cy='2465.12' r='6.9'/><circle cx='972.38' cy='2468.48' r='6.9'/><circle cx='979.8' cy='2473.5' r='6.9'/><circle cx='1014.7' cy='2423.22' r='6.9'/><circle cx='1014.7' cy='2439.98' r='6.9'/><circle cx='1007.28' cy='2446.69' r='6.9'/><circle cx='1022.12' cy='2453.39' r='6.9'/><circle cx='1007.28' cy='2456.74' r='6.9'/><circle cx='1014.7' cy='2465.12' r='6.9'/><circle cx='1049.8' cy='2409.82' r='6.9'/><circle cx='1049.8' cy='2438.31' r='6.9'/><circle cx='1042.38' cy='2446.69' r='6.9'/><circle cx='1049.8' cy='2456.74' r='6.9'/><circle cx='1042.38' cy='2460.1' r='6.9'/><circle cx='1049.8' cy='2468.48' r='6.9'/></g>
<path d='M874.3,2383H885.8V2634.4M874.3,2466.8H885.8M874.3,2550.6H885.8M874.3,2634.4H1074M909.6,2634.4V2646.4M944.9,2634.4V2646.4M979.8,2634.4V2646.4M1014.7,2634.4V2646.4M1049.8,2634.4V2646.4' stroke='#000' stroke-width='2.0' fill='none' stroke-linecap='butt'/>
<g font-size='20.5' text-anchor='end'><text x='870' y='2390.07'>1.5</text><text x='870' y='2473.87'>1.0</text><text x='870' y='2557.67'>0.5</text><text x='870' y='2641.47'>0.0</text></g>
<g font-size='20.4' text-anchor='middle'><text x='892.6' y='2666.8'>Control</text><text x='943.2' y='2666.8'>2.5</text><text x='979.8' y='2666.8'>5</text><text x='1014.7' y='2666.8'>10</text><text x='1049.8' y='2666.8'>20</text></g>
<text x='960.9' y='2690.8' font-size='20.4' text-anchor='middle'>MTX-23 concentration (µM)</text>
<text x='960.9' y='2712.6' font-size='20.4' text-anchor='middle'>Pre-treat w/ 50nM Testosterone</text>
<text transform='translate(836,2510) rotate(-90)' font-size='20.3' text-anchor='middle'>Counts relative to control</text>
<text transform='translate(891.8,2369.9) scale(0.86,1)' x='-10.12' y='0' font-family="'DejaVu Sans', sans-serif" font-size='28.1' fill='#d4262c'>♀</text>
<text x='971.4' y='2371.2' font-size='29' font-weight='bold' text-anchor='middle'>DIPG004</text>
<text x='1063.6' y='2371.2' font-size='28' text-anchor='middle'>NS</text>
</g>
<g id='g4'>
<rect x='1277.7' y='2509.6' width='21.4' height='124.8' fill='#85868a' stroke='#000' stroke-width='1.8'/>
<rect x='1312.6' y='2522.67' width='21.4' height='111.73' fill='#ef8b4b' stroke='#000' stroke-width='1.8'/>
<rect x='1347.9' y='2479.56' width='21.4' height='154.84' fill='#ef8b4b' stroke='#000' stroke-width='1.8'/>
<rect x='1383.2' y='2498.29' width='21.4' height='136.11' fill='#ef8b4b' stroke='#000' stroke-width='1.8'/>
<rect x='1418.2' y='2508.34' width='21.4' height='126.06' fill='#ef8b4b' stroke='#000' stroke-width='1.8'/>
<path d='M1288.4,2528.81V2488.59M1283.65,2488.59H1293.15M1283.65,2528.81H1293.15' stroke='#000' stroke-width='1.8' fill='none'/>
<path d='M1323.3,2528.06V2515.49M1318.55,2515.49H1328.05M1318.55,2528.06H1328.05' stroke='#000' stroke-width='1.8' fill='none'/>
<path d='M1358.6,2507.57V2449.75M1353.85,2449.75H1363.35M1353.85,2507.57H1363.35' stroke='#000' stroke-width='1.8' fill='none'/>
<path d='M1393.9,2536.35V2458.42M1389.15,2458.42H1398.65M1389.15,2536.35H1398.65' stroke='#000' stroke-width='1.8' fill='none'/>
<path d='M1428.9,2531.33V2483.56M1424.15,2483.56H1433.65M1424.15,2531.33H1433.65' stroke='#000' stroke-width='1.8' fill='none'/>
<g fill='#000'><circle cx='1288.4' cy='2473.5' r='6.9'/><circle cx='1288.4' cy='2496.13' r='6.9'/><circle cx='1280.98' cy='2506.19' r='6.9'/><circle cx='1288.4' cy='2518.76' r='6.9'/><circle cx='1280.98' cy='2526.3' r='6.9'/><circle cx='1295.82' cy='2526.3' r='6.9'/><circle cx='1323.3' cy='2513.73' r='6.9'/><circle cx='1315.88' cy='2513.73' r='6.9'/><circle cx='1330.72' cy='2516.24' r='6.9'/><circle cx='1323.3' cy='2525.04' r='6.9'/><circle cx='1315.88' cy='2527.55' r='6.9'/><circle cx='1330.72' cy='2532.58' r='6.9'/><circle cx='1358.6' cy='2433.28' r='6.9'/><circle cx='1358.6' cy='2467.22' r='6.9'/><circle cx='1351.18' cy='2477.28' r='6.9'/><circle cx='1358.6' cy='2484.82' r='6.9'/><circle cx='1351.18' cy='2486.07' r='6.9'/><circle cx='1358.6' cy='2522.53' r='6.9'/><circle cx='1393.9' cy='2467.22' r='6.9'/><circle cx='1386.48' cy='2472.25' r='6.9'/><circle cx='1401.32' cy='2478.53' r='6.9'/><circle cx='1386.48' cy='2484.82' r='6.9'/><circle cx='1393.9' cy='2504.93' r='6.9'/><circle cx='1393.9' cy='2571.55' r='6.9'/><circle cx='1428.9' cy='2472.25' r='6.9'/><circle cx='1428.9' cy='2489.85' r='6.9'/><circle cx='1428.9' cy='2506.19' r='6.9'/><circle cx='1421.48' cy='2507.44' r='6.9'/><circle cx='1428.9' cy='2518.76' r='6.9'/><circle cx='1421.48' cy='2520.01' r='6.9'/></g>
<path d='M1253.1,2383H1265.1V2634.4M1253.1,2445.85H1265.1M1253.1,2508.7H1265.1M1253.1,2571.55H1265.1M1253.1,2634.4H1452.8M1288.4,2634.4V2646.4M1323.3,2634.4V2646.4M1358.6,2634.4V2646.4M1393.9,2634.4V2646.4M1428.9,2634.4V2646.4' stroke='#000' stroke-width='2.0' fill='none' stroke-linecap='butt'/>
<g font-size='20.5' text-anchor='end'><text x='1248.8' y='2390.07'>2.0</text><text x='1248.8' y='2452.92'>1.5</text><text x='1248.8' y='2515.77'>1.0</text><text x='1248.8' y='2578.62'>0.5</text><text x='1248.8' y='2641.47'>0.0</text></g>
<g font-size='20.4' text-anchor='middle'><text x='1271.4' y='2666.8'>Control</text><text x='1321.6' y='2666.8'>2.5</text><text x='1358.6' y='2666.8'>5</text><text x='1393.9' y='2666.8'>10</text><text x='1428.9' y='2666.8'>20</text></g>
<text x='1341.4' y='2690.8' font-size='20.4' text-anchor='middle'>MTX-23 concentration (µM)</text>
<text x='1341.7' y='2712.6' font-size='20.4' text-anchor='middle'>Pre-treat w/ 50nM Testosterone</text>
<text transform='translate(1215,2510) rotate(-90)' font-size='20.3' text-anchor='middle'>Counts relative to control</text>
<text transform='translate(1271.7,2369.6) scale(0.76,1)' x='-12.6' y='0' font-family="'DejaVu Sans', sans-serif" font-size='28' fill='#3d86e0'>♂</text>
<text x='1350.7' y='2371.2' font-size='29' font-weight='bold' text-anchor='middle'>DIPG007</text>
<text x='1442.4' y='2371.2' font-size='28' text-anchor='middle'>NS</text>
</g>
<g font-size='34' font-weight='bold'><text x='-0.7' y='27.6'>a</text><text x='0.5' y='438.3'>b</text><text x='2.8' y='846.8'>c</text><text x='0.6' y='1267'>d</text><text x='1.9' y='1616'>e</text><text x='3.7' y='1987.5'>f</text><text x='6.3' y='2376.3'>g</text><text x='1428.6' y='27.7'>h</text></g>
</svg></body></html>
